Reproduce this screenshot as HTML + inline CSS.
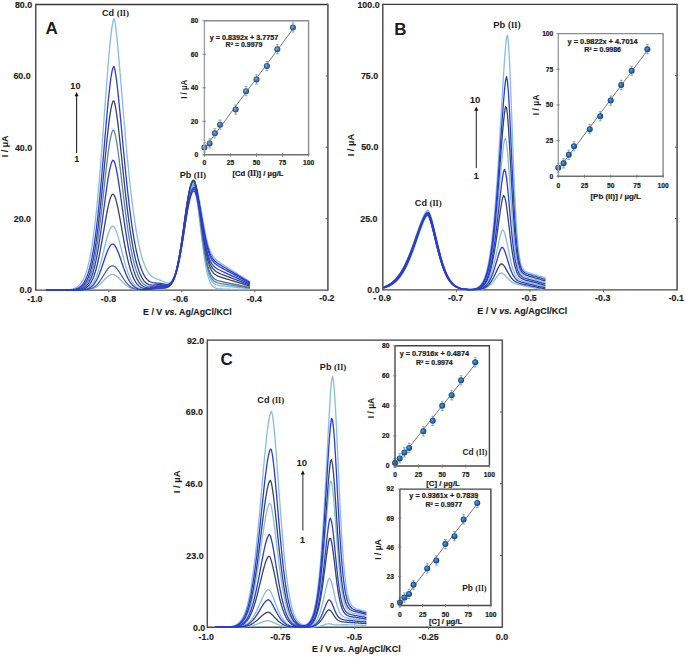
<!DOCTYPE html>
<html><head><meta charset="utf-8"><style>
html,body{margin:0;padding:0;background:#fff;}
body{width:685px;height:657px;overflow:hidden;}
svg{display:block;}
text{font-family:"Liberation Sans",sans-serif;}
</style></head><body>
<svg width="685" height="657" viewBox="0 0 685 657">
<defs>
<radialGradient id="ball" cx="0.5" cy="0.5" r="0.55" fx="0.4" fy="0.38">
<stop offset="0" stop-color="#5aa6ea"/>
<stop offset="0.5" stop-color="#1f6cb8"/>
<stop offset="1" stop-color="#0e3668"/>
</radialGradient>
<radialGradient id="ballA" cx="0.5" cy="0.5" r="0.55" fx="0.4" fy="0.38">
<stop offset="0" stop-color="#7cb8ea"/>
<stop offset="0.5" stop-color="#3a78b8"/>
<stop offset="1" stop-color="#1a3c66"/>
</radialGradient>
</defs>
<rect width="685" height="657" fill="#fff"/>
<line x1="35.75" y1="4.50" x2="327.90" y2="4.50" stroke="#3a3a3a" stroke-width="1.3" />
<line x1="35.75" y1="290.10" x2="327.90" y2="290.10" stroke="#4a4a4a" stroke-width="1.4" />
<line x1="35.75" y1="3.85" x2="35.75" y2="290.80" stroke="#4f4f4f" stroke-width="1.5" />
<line x1="327.90" y1="3.85" x2="327.90" y2="290.80" stroke="#5a5a5a" stroke-width="1.6" />
<line x1="325.70" y1="218.70" x2="327.90" y2="218.70" stroke="#5a5a5a" stroke-width="1.1" />
<line x1="325.70" y1="147.30" x2="327.90" y2="147.30" stroke="#5a5a5a" stroke-width="1.1" />
<line x1="325.70" y1="75.90" x2="327.90" y2="75.90" stroke="#5a5a5a" stroke-width="1.1" />
<line x1="108.79" y1="290.10" x2="108.79" y2="292.30" stroke="#666" stroke-width="1.0" />
<line x1="181.82" y1="290.10" x2="181.82" y2="292.30" stroke="#666" stroke-width="1.0" />
<line x1="254.86" y1="290.10" x2="254.86" y2="292.30" stroke="#666" stroke-width="1.0" />
<path d="M46.00,290.10 L47.00,290.10 L48.00,290.10 L49.00,290.10 L50.00,290.10 L51.00,290.10 L52.00,290.10 L53.00,290.10 L54.00,290.10 L55.00,290.10 L56.00,290.10 L57.00,290.10 L58.00,290.10 L59.00,290.10 L60.00,290.10 L61.00,290.10 L62.00,290.10 L63.00,290.10 L64.00,290.10 L65.00,290.10 L66.00,290.10 L67.00,290.10 L68.00,290.10 L69.00,290.10 L70.00,290.10 L71.00,290.10 L72.00,290.10 L73.00,290.10 L74.00,290.10 L75.00,290.10 L76.00,290.10 L77.00,290.09 L78.00,290.09 L79.00,290.09 L80.00,290.08 L81.00,290.07 L82.00,290.05 L83.00,290.03 L84.00,290.00 L85.00,289.96 L86.00,289.90 L87.00,289.83 L88.00,289.73 L89.00,289.60 L90.00,289.43 L91.00,289.22 L92.00,288.96 L93.00,288.63 L94.00,288.24 L95.00,287.78 L96.00,287.23 L97.00,286.60 L98.00,285.87 L99.00,285.07 L100.00,284.18 L101.00,283.22 L102.00,282.21 L103.00,281.16 L104.00,280.09 L105.00,279.04 L106.00,278.02 L107.00,277.08 L108.00,276.24 L109.00,275.53 L110.00,274.97 L111.00,274.59 L112.00,274.41 L113.00,274.43 L114.00,274.66 L115.00,275.08 L116.00,275.67 L117.00,276.41 L118.00,277.27 L119.00,278.23 L120.00,279.25 L121.00,280.30 L122.00,281.36 L123.00,282.39 L124.00,283.39 L125.00,284.33 L126.00,285.19 L127.00,285.98 L128.00,286.68 L129.00,287.30 L130.00,287.83 L131.00,288.28 L132.00,288.66 L133.00,288.97 L134.00,289.22 L135.00,289.43 L136.00,289.58 L137.00,289.70 L138.00,289.79 L139.00,289.86 L140.00,289.89 L141.00,289.91 L142.00,289.92 L143.00,289.90 L144.00,289.88 L145.00,289.84 L146.00,289.78 L147.00,289.72 L148.00,289.64 L149.00,289.56 L150.00,289.46 L151.00,289.36 L152.00,289.26 L153.00,289.15 L154.00,289.05 L155.00,288.95 L156.00,288.86 L157.00,288.77 L158.00,288.70 L159.00,288.64 L160.00,288.59 L161.00,288.54 L162.00,288.48 L163.00,288.40 L164.00,288.29 L165.00,288.13 L166.00,287.89 L167.00,287.54 L168.00,287.05 L169.00,286.38 L170.00,285.47 L171.00,284.29 L172.00,282.78 L173.00,280.88 L174.00,278.54 L175.00,275.72 L176.00,272.36 L177.00,268.44 L178.00,263.94 L179.00,258.86 L180.00,253.23 L181.00,247.11 L182.00,240.58 L183.00,233.74 L184.00,226.74 L185.00,219.73 L186.00,212.91 L187.00,206.46 L188.00,200.58 L189.00,195.46 L190.00,191.26 L191.00,188.14 L192.00,186.19 L193.00,185.50 L194.00,186.41 L195.00,189.19 L196.00,193.70 L197.00,199.68 L198.00,206.82 L199.00,214.79 L200.00,223.21 L201.00,231.75 L202.00,240.10 L203.00,248.00 L204.00,255.25 L205.00,261.72 L206.00,267.36 L207.00,272.13 L208.00,276.09 L209.00,279.29 L210.00,281.83 L211.00,283.79 L212.00,285.27 L213.00,286.38 L214.00,287.19 L215.00,287.76 L216.00,288.17 L217.00,288.46 L218.00,288.66 L219.00,288.79 L220.00,288.89 L221.00,288.96 L222.00,289.02 L223.00,289.06 L224.00,289.09 L225.00,289.12 L226.00,289.15 L227.00,289.18 L228.00,289.21 L229.00,289.23 L230.00,289.26 L231.00,289.28 L232.00,289.31 L233.00,289.33 L234.00,289.36 L235.00,289.39 L236.00,289.41 L237.00,289.44 L238.00,289.46 L239.00,289.49 L240.00,289.51 L241.00,289.54 L242.00,289.56 L243.00,289.59 L244.00,289.62 L245.00,289.64 L246.00,289.67 L247.00,289.69 L248.00,289.72 L249.00,289.74 L250.00,289.77" fill="none" stroke="#86bde3" stroke-width="1.3" stroke-linejoin="round"/>
<path d="M46.00,290.10 L47.00,290.10 L48.00,290.10 L49.00,290.10 L50.00,290.10 L51.00,290.10 L52.00,290.10 L53.00,290.10 L54.00,290.10 L55.00,290.10 L56.00,290.10 L57.00,290.10 L58.00,290.10 L59.00,290.10 L60.00,290.10 L61.00,290.10 L62.00,290.10 L63.00,290.10 L64.00,290.10 L65.00,290.10 L66.00,290.10 L67.00,290.10 L68.00,290.10 L69.00,290.10 L70.00,290.10 L71.00,290.09 L72.00,290.09 L73.00,290.09 L74.00,290.08 L75.00,290.07 L76.00,290.06 L77.00,290.04 L78.00,290.01 L79.00,289.97 L80.00,289.92 L81.00,289.85 L82.00,289.75 L83.00,289.61 L84.00,289.43 L85.00,289.20 L86.00,288.89 L87.00,288.49 L88.00,287.99 L89.00,287.35 L90.00,286.57 L91.00,285.60 L92.00,284.43 L93.00,283.02 L94.00,281.36 L95.00,279.41 L96.00,277.17 L97.00,274.62 L98.00,271.76 L99.00,268.60 L100.00,265.16 L101.00,261.47 L102.00,257.58 L103.00,253.56 L104.00,249.48 L105.00,245.42 L106.00,241.50 L107.00,237.81 L108.00,234.45 L109.00,231.55 L110.00,229.18 L111.00,227.46 L112.00,226.44 L113.00,226.24 L114.00,226.97 L115.00,228.48 L116.00,230.65 L117.00,233.38 L118.00,236.57 L119.00,240.10 L120.00,243.88 L121.00,247.80 L122.00,251.76 L123.00,255.69 L124.00,259.51 L125.00,263.17 L126.00,266.61 L127.00,269.80 L128.00,272.71 L129.00,275.35 L130.00,277.69 L131.00,279.76 L132.00,281.56 L133.00,283.10 L134.00,284.42 L135.00,285.52 L136.00,286.43 L137.00,287.18 L138.00,287.79 L139.00,288.27 L140.00,288.65 L141.00,288.93 L142.00,289.13 L143.00,289.27 L144.00,289.34 L145.00,289.37 L146.00,289.35 L147.00,289.30 L148.00,289.21 L149.00,289.10 L150.00,288.96 L151.00,288.81 L152.00,288.64 L153.00,288.47 L154.00,288.30 L155.00,288.14 L156.00,288.00 L157.00,287.87 L158.00,287.77 L159.00,287.69 L160.00,287.63 L161.00,287.58 L162.00,287.55 L163.00,287.51 L164.00,287.45 L165.00,287.35 L166.00,287.18 L167.00,286.91 L168.00,286.50 L169.00,285.91 L170.00,285.10 L171.00,284.00 L172.00,282.58 L173.00,280.77 L174.00,278.52 L175.00,275.78 L176.00,272.51 L177.00,268.68 L178.00,264.28 L179.00,259.30 L180.00,253.78 L181.00,247.77 L182.00,241.34 L183.00,234.62 L184.00,227.72 L185.00,220.82 L186.00,214.09 L187.00,207.72 L188.00,201.90 L189.00,196.81 L190.00,192.61 L191.00,189.45 L192.00,187.41 L193.00,186.57 L194.00,187.26 L195.00,189.75 L196.00,193.89 L197.00,199.44 L198.00,206.10 L199.00,213.56 L200.00,221.49 L201.00,229.56 L202.00,237.49 L203.00,245.03 L204.00,252.00 L205.00,258.26 L206.00,263.73 L207.00,268.40 L208.00,272.29 L209.00,275.46 L210.00,277.99 L211.00,279.96 L212.00,281.48 L213.00,282.63 L214.00,283.49 L215.00,284.13 L216.00,284.60 L217.00,284.96 L218.00,285.22 L219.00,285.44 L220.00,285.61 L221.00,285.75 L222.00,285.88 L223.00,286.00 L224.00,286.11 L225.00,286.22 L226.00,286.32 L227.00,286.43 L228.00,286.53 L229.00,286.63 L230.00,286.73 L231.00,286.84 L232.00,286.94 L233.00,287.04 L234.00,287.14 L235.00,287.24 L236.00,287.35 L237.00,287.45 L238.00,287.55 L239.00,287.65 L240.00,287.75 L241.00,287.86 L242.00,287.96 L243.00,288.06 L244.00,288.16 L245.00,288.26 L246.00,288.37 L247.00,288.47 L248.00,288.57 L249.00,288.67 L250.00,288.77" fill="none" stroke="#86bde3" stroke-width="1.3" stroke-linejoin="round"/>
<path d="M46.00,290.10 L47.00,290.10 L48.00,290.10 L49.00,290.10 L50.00,290.10 L51.00,290.10 L52.00,290.10 L53.00,290.10 L54.00,290.10 L55.00,290.10 L56.00,290.10 L57.00,290.10 L58.00,290.10 L59.00,290.10 L60.00,290.10 L61.00,290.10 L62.00,290.10 L63.00,290.09 L64.00,290.09 L65.00,290.09 L66.00,290.08 L67.00,290.08 L68.00,290.07 L69.00,290.05 L70.00,290.03 L71.00,290.01 L72.00,289.97 L73.00,289.92 L74.00,289.86 L75.00,289.77 L76.00,289.66 L77.00,289.51 L78.00,289.32 L79.00,289.07 L80.00,288.75 L81.00,288.35 L82.00,287.84 L83.00,287.21 L84.00,286.42 L85.00,285.45 L86.00,284.27 L87.00,282.83 L88.00,281.10 L89.00,279.04 L90.00,276.60 L91.00,273.74 L92.00,270.42 L93.00,266.59 L94.00,262.22 L95.00,257.29 L96.00,251.76 L97.00,245.63 L98.00,238.90 L99.00,231.60 L100.00,223.78 L101.00,215.48 L102.00,206.80 L103.00,197.84 L104.00,188.73 L105.00,179.63 L106.00,170.71 L107.00,162.15 L108.00,154.15 L109.00,146.92 L110.00,140.68 L111.00,135.64 L112.00,132.01 L113.00,130.04 L114.00,130.51 L115.00,133.58 L116.00,138.27 L117.00,144.18 L118.00,151.03 L119.00,158.58 L120.00,166.61 L121.00,174.94 L122.00,183.41 L123.00,191.88 L124.00,200.22 L125.00,208.33 L126.00,216.14 L127.00,223.57 L128.00,230.57 L129.00,237.12 L130.00,243.19 L131.00,248.77 L132.00,253.87 L133.00,258.50 L134.00,262.66 L135.00,266.38 L136.00,269.68 L137.00,272.59 L138.00,275.14 L139.00,277.36 L140.00,279.26 L141.00,280.89 L142.00,282.26 L143.00,283.40 L144.00,284.33 L145.00,285.07 L146.00,285.64 L147.00,286.06 L148.00,286.34 L149.00,286.51 L150.00,286.58 L151.00,286.57 L152.00,286.49 L153.00,286.37 L154.00,286.22 L155.00,286.05 L156.00,285.90 L157.00,285.76 L158.00,285.65 L159.00,285.58 L160.00,285.54 L161.00,285.55 L162.00,285.58 L163.00,285.64 L164.00,285.69 L165.00,285.71 L166.00,285.68 L167.00,285.55 L168.00,285.28 L169.00,284.83 L170.00,284.14 L171.00,283.16 L172.00,281.83 L173.00,280.10 L174.00,277.91 L175.00,275.21 L176.00,271.96 L177.00,268.12 L178.00,263.69 L179.00,258.67 L180.00,253.08 L181.00,246.99 L182.00,240.47 L183.00,233.64 L184.00,226.63 L185.00,219.61 L186.00,212.76 L187.00,206.27 L188.00,200.33 L189.00,195.12 L190.00,190.81 L191.00,187.53 L192.00,185.38 L193.00,184.43 L194.00,185.00 L195.00,187.38 L196.00,191.39 L197.00,196.82 L198.00,203.36 L199.00,210.70 L200.00,218.53 L201.00,226.53 L202.00,234.41 L203.00,241.94 L204.00,248.92 L205.00,255.21 L206.00,260.73 L207.00,265.46 L208.00,269.41 L209.00,272.64 L210.00,275.24 L211.00,277.28 L212.00,278.86 L213.00,280.06 L214.00,280.98 L215.00,281.67 L216.00,282.20 L217.00,282.61 L218.00,282.93 L219.00,283.19 L220.00,283.41 L221.00,283.61 L222.00,283.79 L223.00,283.96 L224.00,284.12 L225.00,284.28 L226.00,284.44 L227.00,284.59 L228.00,284.74 L229.00,284.90 L230.00,285.05 L231.00,285.20 L232.00,285.36 L233.00,285.51 L234.00,285.66 L235.00,285.82 L236.00,285.97 L237.00,286.12 L238.00,286.28 L239.00,286.43 L240.00,286.58 L241.00,286.73 L242.00,286.89 L243.00,287.04 L244.00,287.19 L245.00,287.35 L246.00,287.50 L247.00,287.65 L248.00,287.81 L249.00,287.96 L250.00,288.11" fill="none" stroke="#5b86a8" stroke-width="1.3" stroke-linejoin="round"/>
<path d="M46.00,290.10 L47.00,290.10 L48.00,290.10 L49.00,290.10 L50.00,290.10 L51.00,290.10 L52.00,290.10 L53.00,290.09 L54.00,290.09 L55.00,290.09 L56.00,290.08 L57.00,290.08 L58.00,290.07 L59.00,290.06 L60.00,290.05 L61.00,290.04 L62.00,290.02 L63.00,289.99 L64.00,289.96 L65.00,289.92 L66.00,289.86 L67.00,289.79 L68.00,289.70 L69.00,289.59 L70.00,289.46 L71.00,289.28 L72.00,289.07 L73.00,288.81 L74.00,288.48 L75.00,288.08 L76.00,287.59 L77.00,287.00 L78.00,286.28 L79.00,285.41 L80.00,284.38 L81.00,283.15 L82.00,281.68 L83.00,279.96 L84.00,277.93 L85.00,275.57 L86.00,272.82 L87.00,269.65 L88.00,266.01 L89.00,261.84 L90.00,257.11 L91.00,251.78 L92.00,245.79 L93.00,239.11 L94.00,231.70 L95.00,223.56 L96.00,214.65 L97.00,204.98 L98.00,194.57 L99.00,183.44 L100.00,171.65 L101.00,159.25 L102.00,146.35 L103.00,133.07 L104.00,119.53 L105.00,105.91 L106.00,92.39 L107.00,79.19 L108.00,66.54 L109.00,54.70 L110.00,43.95 L111.00,34.59 L112.00,26.95 L113.00,21.41 L114.00,18.56 L115.00,21.74 L116.00,29.08 L117.00,38.32 L118.00,48.80 L119.00,60.09 L120.00,71.89 L121.00,83.98 L122.00,96.16 L123.00,108.28 L124.00,120.23 L125.00,131.90 L126.00,143.21 L127.00,154.11 L128.00,164.55 L129.00,174.50 L130.00,183.93 L131.00,192.83 L132.00,201.19 L133.00,209.02 L134.00,216.33 L135.00,223.11 L136.00,229.39 L137.00,235.18 L138.00,240.49 L139.00,245.36 L140.00,249.80 L141.00,253.82 L142.00,257.45 L143.00,260.70 L144.00,263.60 L145.00,266.16 L146.00,268.41 L147.00,270.36 L148.00,272.04 L149.00,273.46 L150.00,274.66 L151.00,275.66 L152.00,276.48 L153.00,277.15 L154.00,277.72 L155.00,278.19 L156.00,278.61 L157.00,279.00 L158.00,279.38 L159.00,279.76 L160.00,280.16 L161.00,280.59 L162.00,281.03 L163.00,281.48 L164.00,281.92 L165.00,282.33 L166.00,282.67 L167.00,282.90 L168.00,282.98 L169.00,282.86 L170.00,282.49 L171.00,281.81 L172.00,280.76 L173.00,279.30 L174.00,277.37 L175.00,274.91 L176.00,271.90 L177.00,268.30 L178.00,264.09 L179.00,259.30 L180.00,253.93 L181.00,248.06 L182.00,241.75 L183.00,235.12 L184.00,228.29 L185.00,221.42 L186.00,214.67 L187.00,208.22 L188.00,202.23 L189.00,196.86 L190.00,192.25 L191.00,188.49 L192.00,185.63 L193.00,183.70 L194.00,182.97 L195.00,183.70 L196.00,185.71 L197.00,188.82 L198.00,192.84 L199.00,197.57 L200.00,202.85 L201.00,208.50 L202.00,214.36 L203.00,220.24 L204.00,225.94 L205.00,231.32 L206.00,236.24 L207.00,240.62 L208.00,244.43 L209.00,247.68 L210.00,250.42 L211.00,252.69 L212.00,254.58 L213.00,256.14 L214.00,257.45 L215.00,258.56 L216.00,259.53 L217.00,260.39 L218.00,261.17 L219.00,261.91 L220.00,262.60 L221.00,263.28 L222.00,263.94 L223.00,264.59 L224.00,265.23 L225.00,265.87 L226.00,266.51 L227.00,267.15 L228.00,267.79 L229.00,268.43 L230.00,269.06 L231.00,269.70 L232.00,270.34 L233.00,270.98 L234.00,271.61 L235.00,272.25 L236.00,272.89 L237.00,273.53 L238.00,274.16 L239.00,274.80 L240.00,275.44 L241.00,276.08 L242.00,276.71 L243.00,277.35 L244.00,277.99 L245.00,278.63 L246.00,279.26 L247.00,279.90 L248.00,280.54 L249.00,281.18 L250.00,281.81" fill="none" stroke="#86bde3" stroke-width="1.3" stroke-linejoin="round"/>
<path d="M46.00,290.10 L47.00,290.10 L48.00,290.10 L49.00,290.10 L50.00,290.10 L51.00,290.10 L52.00,290.10 L53.00,290.10 L54.00,290.10 L55.00,290.10 L56.00,290.10 L57.00,290.10 L58.00,290.10 L59.00,290.10 L60.00,290.10 L61.00,290.10 L62.00,290.10 L63.00,290.10 L64.00,290.10 L65.00,290.10 L66.00,290.10 L67.00,290.10 L68.00,290.10 L69.00,290.10 L70.00,290.10 L71.00,290.10 L72.00,290.10 L73.00,290.10 L74.00,290.10 L75.00,290.10 L76.00,290.09 L77.00,290.09 L78.00,290.08 L79.00,290.07 L80.00,290.06 L81.00,290.04 L82.00,290.02 L83.00,289.98 L84.00,289.93 L85.00,289.86 L86.00,289.77 L87.00,289.65 L88.00,289.49 L89.00,289.28 L90.00,289.01 L91.00,288.68 L92.00,288.27 L93.00,287.76 L94.00,287.15 L95.00,286.43 L96.00,285.58 L97.00,284.60 L98.00,283.49 L99.00,282.25 L100.00,280.89 L101.00,279.43 L102.00,277.88 L103.00,276.27 L104.00,274.64 L105.00,273.03 L106.00,271.47 L107.00,270.02 L108.00,268.73 L109.00,267.63 L110.00,266.76 L111.00,266.16 L112.00,265.86 L113.00,265.87 L114.00,266.21 L115.00,266.84 L116.00,267.74 L117.00,268.86 L118.00,270.17 L119.00,271.63 L120.00,273.17 L121.00,274.78 L122.00,276.39 L123.00,277.97 L124.00,279.50 L125.00,280.94 L126.00,282.27 L127.00,283.49 L128.00,284.58 L129.00,285.54 L130.00,286.38 L131.00,287.10 L132.00,287.70 L133.00,288.20 L134.00,288.62 L135.00,288.95 L136.00,289.21 L137.00,289.42 L138.00,289.58 L139.00,289.69 L140.00,289.77 L141.00,289.82 L142.00,289.84 L143.00,289.84 L144.00,289.82 L145.00,289.79 L146.00,289.73 L147.00,289.66 L148.00,289.58 L149.00,289.49 L150.00,289.38 L151.00,289.27 L152.00,289.15 L153.00,289.03 L154.00,288.92 L155.00,288.80 L156.00,288.70 L157.00,288.61 L158.00,288.54 L159.00,288.47 L160.00,288.41 L161.00,288.36 L162.00,288.31 L163.00,288.23 L164.00,288.13 L165.00,287.97 L166.00,287.73 L167.00,287.39 L168.00,286.89 L169.00,286.21 L170.00,285.30 L171.00,284.10 L172.00,282.56 L173.00,280.62 L174.00,278.24 L175.00,275.35 L176.00,271.92 L177.00,267.91 L178.00,263.30 L179.00,258.10 L180.00,252.34 L181.00,246.07 L182.00,239.37 L183.00,232.35 L184.00,225.16 L185.00,217.96 L186.00,210.93 L187.00,204.26 L188.00,198.16 L189.00,192.79 L190.00,188.34 L191.00,184.92 L192.00,182.65 L193.00,181.57 L194.00,182.03 L195.00,184.31 L196.00,188.24 L197.00,193.58 L198.00,200.05 L199.00,207.34 L200.00,215.12 L201.00,223.10 L202.00,231.00 L203.00,238.57 L204.00,245.61 L205.00,251.97 L206.00,257.58 L207.00,262.40 L208.00,266.44 L209.00,269.76 L210.00,272.44 L211.00,274.55 L212.00,276.21 L213.00,277.48 L214.00,278.46 L215.00,279.21 L216.00,279.79 L217.00,280.26 L218.00,280.63 L219.00,280.95 L220.00,281.22 L221.00,281.47 L222.00,281.70 L223.00,281.92 L224.00,282.13 L225.00,282.34 L226.00,282.55 L227.00,282.75 L228.00,282.96 L229.00,283.16 L230.00,283.37 L231.00,283.57 L232.00,283.78 L233.00,283.98 L234.00,284.18 L235.00,284.39 L236.00,284.59 L237.00,284.80 L238.00,285.00 L239.00,285.20 L240.00,285.41 L241.00,285.61 L242.00,285.82 L243.00,286.02 L244.00,286.22 L245.00,286.43 L246.00,286.63 L247.00,286.84 L248.00,287.04 L249.00,287.24 L250.00,287.45" fill="none" stroke="#4d6a8c" stroke-width="1.3" stroke-linejoin="round"/>
<path d="M46.00,290.10 L47.00,290.10 L48.00,290.10 L49.00,290.10 L50.00,290.10 L51.00,290.10 L52.00,290.10 L53.00,290.10 L54.00,290.10 L55.00,290.10 L56.00,290.10 L57.00,290.10 L58.00,290.10 L59.00,290.10 L60.00,290.10 L61.00,290.10 L62.00,290.10 L63.00,290.10 L64.00,290.10 L65.00,290.10 L66.00,290.10 L67.00,290.10 L68.00,290.10 L69.00,290.09 L70.00,290.09 L71.00,290.08 L72.00,290.08 L73.00,290.06 L74.00,290.05 L75.00,290.03 L76.00,289.99 L77.00,289.95 L78.00,289.89 L79.00,289.81 L80.00,289.70 L81.00,289.55 L82.00,289.35 L83.00,289.09 L84.00,288.76 L85.00,288.33 L86.00,287.79 L87.00,287.10 L88.00,286.25 L89.00,285.19 L90.00,283.91 L91.00,282.36 L92.00,280.51 L93.00,278.32 L94.00,275.77 L95.00,272.82 L96.00,269.46 L97.00,265.67 L98.00,261.46 L99.00,256.83 L100.00,251.82 L101.00,246.47 L102.00,240.86 L103.00,235.05 L104.00,229.15 L105.00,223.28 L106.00,217.58 L107.00,212.17 L108.00,207.21 L109.00,202.84 L110.00,199.21 L111.00,196.45 L112.00,194.69 L113.00,194.07 L114.00,194.95 L115.00,197.06 L116.00,200.14 L117.00,204.03 L118.00,208.55 L119.00,213.55 L120.00,218.90 L121.00,224.46 L122.00,230.11 L123.00,235.72 L124.00,241.22 L125.00,246.51 L126.00,251.54 L127.00,256.26 L128.00,260.62 L129.00,264.62 L130.00,268.24 L131.00,271.48 L132.00,274.36 L133.00,276.89 L134.00,279.09 L135.00,280.98 L136.00,282.59 L137.00,283.96 L138.00,285.09 L139.00,286.03 L140.00,286.80 L141.00,287.40 L142.00,287.88 L143.00,288.23 L144.00,288.49 L145.00,288.65 L146.00,288.74 L147.00,288.75 L148.00,288.71 L149.00,288.63 L150.00,288.50 L151.00,288.34 L152.00,288.15 L153.00,287.96 L154.00,287.76 L155.00,287.58 L156.00,287.40 L157.00,287.25 L158.00,287.13 L159.00,287.03 L160.00,286.97 L161.00,286.93 L162.00,286.91 L163.00,286.89 L164.00,286.86 L165.00,286.79 L166.00,286.64 L167.00,286.40 L168.00,286.01 L169.00,285.43 L170.00,284.62 L171.00,283.51 L172.00,282.05 L173.00,280.19 L174.00,277.86 L175.00,275.02 L176.00,271.62 L177.00,267.63 L178.00,263.03 L179.00,257.83 L180.00,252.06 L181.00,245.76 L182.00,239.03 L183.00,231.98 L184.00,224.74 L185.00,217.49 L186.00,210.39 L187.00,203.66 L188.00,197.47 L189.00,192.01 L190.00,187.44 L191.00,183.88 L192.00,181.44 L193.00,180.14 L194.00,180.34 L195.00,182.31 L196.00,185.87 L197.00,190.80 L198.00,196.83 L199.00,203.66 L200.00,211.02 L201.00,218.61 L202.00,226.18 L203.00,233.50 L204.00,240.36 L205.00,246.61 L206.00,252.16 L207.00,256.97 L208.00,261.03 L209.00,264.39 L210.00,267.13 L211.00,269.32 L212.00,271.05 L213.00,272.41 L214.00,273.48 L215.00,274.33 L216.00,275.01 L217.00,275.57 L218.00,276.05 L219.00,276.46 L220.00,276.84 L221.00,277.19 L222.00,277.52 L223.00,277.84 L224.00,278.16 L225.00,278.47 L226.00,278.78 L227.00,279.08 L228.00,279.39 L229.00,279.70 L230.00,280.00 L231.00,280.31 L232.00,280.61 L233.00,280.92 L234.00,281.23 L235.00,281.53 L236.00,281.84 L237.00,282.14 L238.00,282.45 L239.00,282.76 L240.00,283.06 L241.00,283.37 L242.00,283.67 L243.00,283.98 L244.00,284.29 L245.00,284.59 L246.00,284.90 L247.00,285.20 L248.00,285.51 L249.00,285.82 L250.00,286.12" fill="none" stroke="#34466b" stroke-width="1.3" stroke-linejoin="round"/>
<path d="M46.00,290.10 L47.00,290.10 L48.00,290.10 L49.00,290.10 L50.00,290.10 L51.00,290.10 L52.00,290.10 L53.00,290.10 L54.00,290.10 L55.00,290.10 L56.00,290.10 L57.00,290.10 L58.00,290.10 L59.00,290.10 L60.00,290.10 L61.00,290.09 L62.00,290.09 L63.00,290.09 L64.00,290.08 L65.00,290.07 L66.00,290.06 L67.00,290.05 L68.00,290.03 L69.00,290.00 L70.00,289.97 L71.00,289.92 L72.00,289.86 L73.00,289.77 L74.00,289.67 L75.00,289.53 L76.00,289.35 L77.00,289.12 L78.00,288.83 L79.00,288.47 L80.00,288.01 L81.00,287.44 L82.00,286.73 L83.00,285.86 L84.00,284.80 L85.00,283.52 L86.00,281.97 L87.00,280.12 L88.00,277.93 L89.00,275.35 L90.00,272.34 L91.00,268.84 L92.00,264.82 L93.00,260.23 L94.00,255.04 L95.00,249.22 L96.00,242.75 L97.00,235.62 L98.00,227.85 L99.00,219.45 L100.00,210.47 L101.00,200.97 L102.00,191.06 L103.00,180.83 L104.00,170.44 L105.00,160.02 L106.00,149.78 L107.00,139.90 L108.00,130.60 L109.00,122.11 L110.00,114.67 L111.00,108.52 L112.00,103.91 L113.00,101.13 L114.00,101.01 L115.00,104.40 L116.00,109.78 L117.00,116.56 L118.00,124.38 L119.00,132.96 L120.00,142.06 L121.00,151.48 L122.00,161.04 L123.00,170.61 L124.00,180.04 L125.00,189.24 L126.00,198.12 L127.00,206.61 L128.00,214.67 L129.00,222.25 L130.00,229.33 L131.00,235.90 L132.00,241.96 L133.00,247.52 L134.00,252.57 L135.00,257.15 L136.00,261.28 L137.00,264.97 L138.00,268.25 L139.00,271.15 L140.00,273.69 L141.00,275.91 L142.00,277.82 L143.00,279.45 L144.00,280.83 L145.00,281.97 L146.00,282.89 L147.00,283.62 L148.00,284.18 L149.00,284.58 L150.00,284.85 L151.00,285.00 L152.00,285.07 L153.00,285.06 L154.00,285.01 L155.00,284.93 L156.00,284.84 L157.00,284.76 L158.00,284.70 L159.00,284.68 L160.00,284.70 L161.00,284.75 L162.00,284.84 L163.00,284.94 L164.00,285.05 L165.00,285.12 L166.00,285.14 L167.00,285.06 L168.00,284.84 L169.00,284.43 L170.00,283.77 L171.00,282.82 L172.00,281.51 L173.00,279.78 L174.00,277.59 L175.00,274.87 L176.00,271.58 L177.00,267.70 L178.00,263.21 L179.00,258.11 L180.00,252.44 L181.00,246.24 L182.00,239.61 L183.00,232.65 L184.00,225.50 L185.00,218.33 L186.00,211.31 L187.00,204.63 L188.00,198.48 L189.00,193.04 L190.00,188.45 L191.00,184.84 L192.00,182.30 L193.00,180.86 L194.00,180.85 L195.00,182.53 L196.00,185.74 L197.00,190.25 L198.00,195.82 L199.00,202.18 L200.00,209.06 L201.00,216.22 L202.00,223.40 L203.00,230.39 L204.00,237.00 L205.00,243.05 L206.00,248.47 L207.00,253.18 L208.00,257.19 L209.00,260.53 L210.00,263.27 L211.00,265.48 L212.00,267.25 L213.00,268.66 L214.00,269.78 L215.00,270.69 L216.00,271.44 L217.00,272.07 L218.00,272.61 L219.00,273.10 L220.00,273.55 L221.00,273.98 L222.00,274.38 L223.00,274.78 L224.00,275.17 L225.00,275.56 L226.00,275.95 L227.00,276.33 L228.00,276.71 L229.00,277.10 L230.00,277.48 L231.00,277.86 L232.00,278.24 L233.00,278.63 L234.00,279.01 L235.00,279.39 L236.00,279.77 L237.00,280.16 L238.00,280.54 L239.00,280.92 L240.00,281.30 L241.00,281.69 L242.00,282.07 L243.00,282.45 L244.00,282.83 L245.00,283.22 L246.00,283.60 L247.00,283.98 L248.00,284.36 L249.00,284.75 L250.00,285.13" fill="none" stroke="#34466b" stroke-width="1.3" stroke-linejoin="round"/>
<path d="M46.00,290.10 L47.00,290.10 L48.00,290.10 L49.00,290.10 L50.00,290.10 L51.00,290.10 L52.00,290.10 L53.00,290.10 L54.00,290.10 L55.00,290.10 L56.00,290.10 L57.00,290.10 L58.00,290.10 L59.00,290.10 L60.00,290.10 L61.00,290.10 L62.00,290.10 L63.00,290.10 L64.00,290.10 L65.00,290.10 L66.00,290.10 L67.00,290.10 L68.00,290.10 L69.00,290.10 L70.00,290.10 L71.00,290.10 L72.00,290.10 L73.00,290.09 L74.00,290.09 L75.00,290.09 L76.00,290.08 L77.00,290.07 L78.00,290.05 L79.00,290.03 L80.00,290.00 L81.00,289.95 L82.00,289.89 L83.00,289.81 L84.00,289.70 L85.00,289.54 L86.00,289.34 L87.00,289.08 L88.00,288.74 L89.00,288.32 L90.00,287.78 L91.00,287.11 L92.00,286.29 L93.00,285.30 L94.00,284.12 L95.00,282.73 L96.00,281.11 L97.00,279.27 L98.00,277.19 L99.00,274.87 L100.00,272.35 L101.00,269.64 L102.00,266.77 L103.00,263.81 L104.00,260.80 L105.00,257.82 L106.00,254.93 L107.00,252.24 L108.00,249.80 L109.00,247.71 L110.00,246.03 L111.00,244.83 L112.00,244.17 L113.00,244.10 L114.00,244.68 L115.00,245.82 L116.00,247.44 L117.00,249.48 L118.00,251.85 L119.00,254.49 L120.00,257.31 L121.00,260.22 L122.00,263.17 L123.00,266.08 L124.00,268.90 L125.00,271.58 L126.00,274.09 L127.00,276.39 L128.00,278.49 L129.00,280.36 L130.00,282.01 L131.00,283.45 L132.00,284.69 L133.00,285.73 L134.00,286.61 L135.00,287.33 L136.00,287.92 L137.00,288.40 L138.00,288.77 L139.00,289.06 L140.00,289.28 L141.00,289.43 L142.00,289.54 L143.00,289.60 L144.00,289.62 L145.00,289.60 L146.00,289.56 L147.00,289.49 L148.00,289.40 L149.00,289.29 L150.00,289.16 L151.00,289.02 L152.00,288.88 L153.00,288.73 L154.00,288.58 L155.00,288.45 L156.00,288.32 L157.00,288.21 L158.00,288.12 L159.00,288.05 L160.00,287.99 L161.00,287.95 L162.00,287.92 L163.00,287.87 L164.00,287.81 L165.00,287.71 L166.00,287.54 L167.00,287.27 L168.00,286.88 L169.00,286.32 L170.00,285.55 L171.00,284.52 L172.00,283.19 L173.00,281.50 L174.00,279.41 L175.00,276.86 L176.00,273.83 L177.00,270.27 L178.00,266.18 L179.00,261.56 L180.00,256.43 L181.00,250.84 L182.00,244.86 L183.00,238.60 L184.00,232.16 L185.00,225.70 L186.00,219.37 L187.00,213.34 L188.00,207.76 L189.00,202.80 L190.00,198.58 L191.00,195.21 L192.00,192.74 L193.00,191.21 L194.00,190.90 L195.00,192.03 L196.00,194.46 L197.00,198.00 L198.00,202.44 L199.00,207.57 L200.00,213.20 L201.00,219.12 L202.00,225.14 L203.00,231.07 L204.00,236.74 L205.00,242.00 L206.00,246.75 L207.00,250.92 L208.00,254.51 L209.00,257.54 L210.00,260.04 L211.00,262.10 L212.00,263.77 L213.00,265.13 L214.00,266.24 L215.00,267.16 L216.00,267.93 L217.00,268.61 L218.00,269.21 L219.00,269.76 L220.00,270.28 L221.00,270.77 L222.00,271.25 L223.00,271.73 L224.00,272.19 L225.00,272.65 L226.00,273.12 L227.00,273.58 L228.00,274.04 L229.00,274.49 L230.00,274.95 L231.00,275.41 L232.00,275.87 L233.00,276.33 L234.00,276.79 L235.00,277.25 L236.00,277.71 L237.00,278.17 L238.00,278.63 L239.00,279.08 L240.00,279.54 L241.00,280.00 L242.00,280.46 L243.00,280.92 L244.00,281.38 L245.00,281.84 L246.00,282.30 L247.00,282.76 L248.00,283.22 L249.00,283.67 L250.00,284.13" fill="none" stroke="#2c3ae0" stroke-width="1.3" stroke-linejoin="round"/>
<path d="M46.00,290.10 L47.00,290.10 L48.00,290.10 L49.00,290.10 L50.00,290.10 L51.00,290.10 L52.00,290.10 L53.00,290.10 L54.00,290.10 L55.00,290.10 L56.00,290.10 L57.00,290.10 L58.00,290.10 L59.00,290.10 L60.00,290.10 L61.00,290.10 L62.00,290.10 L63.00,290.10 L64.00,290.10 L65.00,290.10 L66.00,290.09 L67.00,290.09 L68.00,290.09 L69.00,290.08 L70.00,290.07 L71.00,290.06 L72.00,290.04 L73.00,290.01 L74.00,289.98 L75.00,289.93 L76.00,289.86 L77.00,289.77 L78.00,289.66 L79.00,289.50 L80.00,289.30 L81.00,289.03 L82.00,288.70 L83.00,288.26 L84.00,287.71 L85.00,287.03 L86.00,286.17 L87.00,285.11 L88.00,283.83 L89.00,282.27 L90.00,280.40 L91.00,278.17 L92.00,275.56 L93.00,272.52 L94.00,269.01 L95.00,265.00 L96.00,260.48 L97.00,255.43 L98.00,249.86 L99.00,243.78 L100.00,237.23 L101.00,230.27 L102.00,222.97 L103.00,215.43 L104.00,207.78 L105.00,200.14 L106.00,192.68 L107.00,185.56 L108.00,178.97 L109.00,173.08 L110.00,168.08 L111.00,164.14 L112.00,161.45 L113.00,160.20 L114.00,161.01 L115.00,163.66 L116.00,167.61 L117.00,172.60 L118.00,178.39 L119.00,184.80 L120.00,191.63 L121.00,198.73 L122.00,205.94 L123.00,213.14 L124.00,220.22 L125.00,227.08 L126.00,233.64 L127.00,239.85 L128.00,245.66 L129.00,251.05 L130.00,255.99 L131.00,260.49 L132.00,264.55 L133.00,268.18 L134.00,271.40 L135.00,274.23 L136.00,276.70 L137.00,278.84 L138.00,280.68 L139.00,282.24 L140.00,283.55 L141.00,284.64 L142.00,285.54 L143.00,286.25 L144.00,286.80 L145.00,287.22 L146.00,287.51 L147.00,287.69 L148.00,287.78 L149.00,287.78 L150.00,287.72 L151.00,287.61 L152.00,287.45 L153.00,287.27 L154.00,287.07 L155.00,286.88 L156.00,286.70 L157.00,286.54 L158.00,286.41 L159.00,286.32 L160.00,286.27 L161.00,286.25 L162.00,286.26 L163.00,286.28 L164.00,286.30 L165.00,286.30 L166.00,286.23 L167.00,286.08 L168.00,285.80 L169.00,285.35 L170.00,284.68 L171.00,283.74 L172.00,282.47 L173.00,280.83 L174.00,278.76 L175.00,276.22 L176.00,273.16 L177.00,269.56 L178.00,265.40 L179.00,260.68 L180.00,255.44 L181.00,249.71 L182.00,243.58 L183.00,237.15 L184.00,230.54 L185.00,223.90 L186.00,217.38 L187.00,211.17 L188.00,205.41 L189.00,200.27 L190.00,195.88 L191.00,192.34 L192.00,189.70 L193.00,188.00 L194.00,187.51 L195.00,188.46 L196.00,190.71 L197.00,194.07 L198.00,198.33 L199.00,203.29 L200.00,208.76 L201.00,214.57 L202.00,220.52 L203.00,226.43 L204.00,232.11 L205.00,237.42 L206.00,242.24 L207.00,246.51 L208.00,250.19 L209.00,253.31 L210.00,255.92 L211.00,258.07 L212.00,259.83 L213.00,261.28 L214.00,262.47 L215.00,263.47 L216.00,264.33 L217.00,265.09 L218.00,265.77 L219.00,266.39 L220.00,266.99 L221.00,267.56 L222.00,268.12 L223.00,268.67 L224.00,269.21 L225.00,269.75 L226.00,270.29 L227.00,270.82 L228.00,271.36 L229.00,271.89 L230.00,272.43 L231.00,272.96 L232.00,273.50 L233.00,274.04 L234.00,274.57 L235.00,275.11 L236.00,275.64 L237.00,276.18 L238.00,276.71 L239.00,277.25 L240.00,277.78 L241.00,278.32 L242.00,278.85 L243.00,279.39 L244.00,279.93 L245.00,280.46 L246.00,281.00 L247.00,281.53 L248.00,282.07 L249.00,282.60 L250.00,283.14" fill="none" stroke="#2c3ae0" stroke-width="1.3" stroke-linejoin="round"/>
<path d="M46.00,290.10 L47.00,290.10 L48.00,290.10 L49.00,290.10 L50.00,290.10 L51.00,290.10 L52.00,290.10 L53.00,290.10 L54.00,290.10 L55.00,290.10 L56.00,290.10 L57.00,290.09 L58.00,290.09 L59.00,290.09 L60.00,290.09 L61.00,290.08 L62.00,290.07 L63.00,290.06 L64.00,290.05 L65.00,290.03 L66.00,290.01 L67.00,289.98 L68.00,289.94 L69.00,289.89 L70.00,289.83 L71.00,289.74 L72.00,289.63 L73.00,289.49 L74.00,289.31 L75.00,289.09 L76.00,288.81 L77.00,288.45 L78.00,288.01 L79.00,287.47 L80.00,286.81 L81.00,285.99 L82.00,285.01 L83.00,283.81 L84.00,282.38 L85.00,280.68 L86.00,278.66 L87.00,276.29 L88.00,273.51 L89.00,270.29 L90.00,266.57 L91.00,262.31 L92.00,257.46 L93.00,251.99 L94.00,245.86 L95.00,239.04 L96.00,231.51 L97.00,223.28 L98.00,214.34 L99.00,204.74 L100.00,194.51 L101.00,183.73 L102.00,172.49 L103.00,160.90 L104.00,149.11 L105.00,137.28 L106.00,125.59 L107.00,114.26 L108.00,103.51 L109.00,93.58 L110.00,84.75 L111.00,77.26 L112.00,71.43 L113.00,67.58 L114.00,66.40 L115.00,70.06 L116.00,76.23 L117.00,84.02 L118.00,92.94 L119.00,102.67 L120.00,112.94 L121.00,123.53 L122.00,134.26 L123.00,144.97 L124.00,155.55 L125.00,165.87 L126.00,175.87 L127.00,185.47 L128.00,194.62 L129.00,203.29 L130.00,211.44 L131.00,219.07 L132.00,226.17 L133.00,232.75 L134.00,238.80 L135.00,244.35 L136.00,249.42 L137.00,254.01 L138.00,258.17 L139.00,261.90 L140.00,265.23 L141.00,268.20 L142.00,270.81 L143.00,273.09 L144.00,275.07 L145.00,276.76 L146.00,278.19 L147.00,279.38 L148.00,280.35 L149.00,281.12 L150.00,281.72 L151.00,282.16 L152.00,282.48 L153.00,282.69 L154.00,282.83 L155.00,282.92 L156.00,282.99 L157.00,283.05 L158.00,283.12 L159.00,283.21 L160.00,283.34 L161.00,283.51 L162.00,283.71 L163.00,283.92 L164.00,284.14 L165.00,284.34 L166.00,284.48 L167.00,284.54 L168.00,284.46 L169.00,284.21 L170.00,283.73 L171.00,282.97 L172.00,281.88 L173.00,280.40 L174.00,278.48 L175.00,276.09 L176.00,273.17 L177.00,269.70 L178.00,265.68 L179.00,261.09 L180.00,255.98 L181.00,250.39 L182.00,244.39 L183.00,238.09 L184.00,231.61 L185.00,225.09 L186.00,218.69 L187.00,212.57 L188.00,206.90 L189.00,201.82 L190.00,197.46 L191.00,193.91 L192.00,191.22 L193.00,189.42 L194.00,188.78 L195.00,189.52 L196.00,191.50 L197.00,194.52 L198.00,198.41 L199.00,202.98 L200.00,208.06 L201.00,213.50 L202.00,219.11 L203.00,224.73 L204.00,230.18 L205.00,235.30 L206.00,239.97 L207.00,244.13 L208.00,247.74 L209.00,250.82 L210.00,253.41 L211.00,255.55 L212.00,257.33 L213.00,258.79 L214.00,260.02 L215.00,261.06 L216.00,261.96 L217.00,262.75 L218.00,263.48 L219.00,264.16 L220.00,264.80 L221.00,265.42 L222.00,266.03 L223.00,266.63 L224.00,267.22 L225.00,267.81 L226.00,268.40 L227.00,268.99 L228.00,269.57 L229.00,270.16 L230.00,270.75 L231.00,271.33 L232.00,271.92 L233.00,272.51 L234.00,273.09 L235.00,273.68 L236.00,274.26 L237.00,274.85 L238.00,275.44 L239.00,276.02 L240.00,276.61 L241.00,277.20 L242.00,277.78 L243.00,278.37 L244.00,278.96 L245.00,279.54 L246.00,280.13 L247.00,280.72 L248.00,281.30 L249.00,281.89 L250.00,282.48" fill="none" stroke="#2c3ae0" stroke-width="1.3" stroke-linejoin="round"/>
<text transform="translate(31.90,293.40) scale(0.955,1)" font-size="9.3" text-anchor="end" font-weight="bold" font-family="Liberation Sans" fill="#1c1c1c" stroke="#1c1c1c" stroke-width="0.15">0.0</text>
<text transform="translate(31.00,222.00) scale(0.955,1)" font-size="9.3" text-anchor="end" font-weight="bold" font-family="Liberation Sans" fill="#1c1c1c" stroke="#1c1c1c" stroke-width="0.15">20.0</text>
<text transform="translate(32.20,150.60) scale(0.955,1)" font-size="9.3" text-anchor="end" font-weight="bold" font-family="Liberation Sans" fill="#1c1c1c" stroke="#1c1c1c" stroke-width="0.15">40.0</text>
<text transform="translate(30.70,79.20) scale(0.955,1)" font-size="9.3" text-anchor="end" font-weight="bold" font-family="Liberation Sans" fill="#1c1c1c" stroke="#1c1c1c" stroke-width="0.15">60.0</text>
<text transform="translate(32.20,7.80) scale(0.955,1)" font-size="9.3" text-anchor="end" font-weight="bold" font-family="Liberation Sans" fill="#1c1c1c" stroke="#1c1c1c" stroke-width="0.15">80.0</text>
<text transform="translate(34.90,301.50) scale(0.955,1)" font-size="9.3" text-anchor="middle" font-weight="bold" font-family="Liberation Sans" fill="#1c1c1c" stroke="#1c1c1c" stroke-width="0.15">-1.0</text>
<text transform="translate(108.50,302.00) scale(0.955,1)" font-size="9.3" text-anchor="middle" font-weight="bold" font-family="Liberation Sans" fill="#1c1c1c" stroke="#1c1c1c" stroke-width="0.15">-0.8</text>
<text transform="translate(180.60,302.00) scale(0.955,1)" font-size="9.3" text-anchor="middle" font-weight="bold" font-family="Liberation Sans" fill="#1c1c1c" stroke="#1c1c1c" stroke-width="0.15">-0.6</text>
<text transform="translate(254.30,302.00) scale(0.955,1)" font-size="9.3" text-anchor="middle" font-weight="bold" font-family="Liberation Sans" fill="#1c1c1c" stroke="#1c1c1c" stroke-width="0.15">-0.4</text>
<text transform="translate(326.90,301.00) scale(0.955,1)" font-size="9.3" text-anchor="middle" font-weight="bold" font-family="Liberation Sans" fill="#1c1c1c" stroke="#1c1c1c" stroke-width="0.15">-0.2</text>
<text transform="translate(187.35,315.40) scale(0.8921,1)" font-size="9.9" text-anchor="middle" font-weight="bold" font-family="Liberation Sans" fill="#1c1c1c" stroke="#1c1c1c" stroke-width="0.15">E / V <tspan font-style="italic">vs.</tspan> Ag/AgCl/KCl</text>
<text transform="translate(7.80,146.40) rotate(-90) scale(0.93,1)" x="0" y="0" font-size="9.8" text-anchor="middle" font-weight="bold" font-family="Liberation Sans" fill="#1c1c1c">I / µA</text>
<text x="45.40" y="33.80" font-size="17" text-anchor="start" font-weight="bold" font-family="Liberation Sans" fill="#1c1c1c" >A</text>
<text x="115.50" y="15.60" font-size="9.1" text-anchor="middle" font-weight="bold" font-family="Liberation Sans" fill="#1c1c1c" >Cd <tspan font-family="Liberation Serif">(<tspan font-size="88%">II</tspan>)</tspan></text>
<text x="192.90" y="178.30" font-size="9.1" text-anchor="middle" font-weight="bold" font-family="Liberation Sans" fill="#1c1c1c" >Pb <tspan font-family="Liberation Serif">(<tspan font-size="88%">II</tspan>)</tspan></text>
<line x1="76.60" y1="153.00" x2="76.60" y2="95.10" stroke="#222" stroke-width="1.1" />
<polygon points="74.60,96.30 78.60,96.30 76.60,92.10" fill="#111"/>
<text x="75.40" y="89.00" font-size="9.1" text-anchor="middle" font-weight="bold" font-family="Liberation Sans" fill="#1c1c1c" >10</text>
<text x="76.70" y="162.10" font-size="9.1" text-anchor="middle" font-weight="bold" font-family="Liberation Sans" fill="#1c1c1c" >1</text>
<line x1="204.40" y1="148.48" x2="292.97" y2="28.99" stroke="#6a6a6a" stroke-width="0.9" />
<line x1="204.40" y1="142.83" x2="204.40" y2="152.03" stroke="#8a8a8a" stroke-width="0.7" />
<line x1="203.00" y1="142.83" x2="205.80" y2="142.83" stroke="#8a8a8a" stroke-width="0.8" />
<line x1="203.00" y1="152.03" x2="205.80" y2="152.03" stroke="#8a8a8a" stroke-width="0.8" />
<line x1="209.61" y1="138.81" x2="209.61" y2="148.01" stroke="#8a8a8a" stroke-width="0.7" />
<line x1="208.21" y1="138.81" x2="211.01" y2="138.81" stroke="#8a8a8a" stroke-width="0.8" />
<line x1="208.21" y1="148.01" x2="211.01" y2="148.01" stroke="#8a8a8a" stroke-width="0.8" />
<line x1="214.82" y1="128.76" x2="214.82" y2="137.96" stroke="#8a8a8a" stroke-width="0.7" />
<line x1="213.42" y1="128.76" x2="216.22" y2="128.76" stroke="#8a8a8a" stroke-width="0.8" />
<line x1="213.42" y1="137.96" x2="216.22" y2="137.96" stroke="#8a8a8a" stroke-width="0.8" />
<line x1="220.03" y1="120.05" x2="220.03" y2="129.25" stroke="#8a8a8a" stroke-width="0.7" />
<line x1="218.63" y1="120.05" x2="221.43" y2="120.05" stroke="#8a8a8a" stroke-width="0.8" />
<line x1="218.63" y1="129.25" x2="221.43" y2="129.25" stroke="#8a8a8a" stroke-width="0.8" />
<line x1="235.66" y1="104.98" x2="235.66" y2="114.18" stroke="#8a8a8a" stroke-width="0.7" />
<line x1="234.26" y1="104.98" x2="237.06" y2="104.98" stroke="#8a8a8a" stroke-width="0.8" />
<line x1="234.26" y1="114.18" x2="237.06" y2="114.18" stroke="#8a8a8a" stroke-width="0.8" />
<line x1="246.08" y1="86.55" x2="246.08" y2="95.75" stroke="#8a8a8a" stroke-width="0.7" />
<line x1="244.68" y1="86.55" x2="247.48" y2="86.55" stroke="#8a8a8a" stroke-width="0.8" />
<line x1="244.68" y1="95.75" x2="247.48" y2="95.75" stroke="#8a8a8a" stroke-width="0.8" />
<line x1="256.50" y1="74.83" x2="256.50" y2="84.03" stroke="#8a8a8a" stroke-width="0.7" />
<line x1="255.10" y1="74.83" x2="257.90" y2="74.83" stroke="#8a8a8a" stroke-width="0.8" />
<line x1="255.10" y1="84.03" x2="257.90" y2="84.03" stroke="#8a8a8a" stroke-width="0.8" />
<line x1="266.92" y1="61.43" x2="266.92" y2="70.62" stroke="#8a8a8a" stroke-width="0.7" />
<line x1="265.52" y1="61.43" x2="268.32" y2="61.43" stroke="#8a8a8a" stroke-width="0.8" />
<line x1="265.52" y1="70.62" x2="268.32" y2="70.62" stroke="#8a8a8a" stroke-width="0.8" />
<line x1="277.34" y1="44.68" x2="277.34" y2="53.88" stroke="#8a8a8a" stroke-width="0.7" />
<line x1="275.94" y1="44.68" x2="278.74" y2="44.68" stroke="#8a8a8a" stroke-width="0.8" />
<line x1="275.94" y1="53.88" x2="278.74" y2="53.88" stroke="#8a8a8a" stroke-width="0.8" />
<line x1="292.97" y1="22.90" x2="292.97" y2="32.10" stroke="#8a8a8a" stroke-width="0.7" />
<line x1="291.57" y1="22.90" x2="294.37" y2="22.90" stroke="#8a8a8a" stroke-width="0.8" />
<line x1="291.57" y1="32.10" x2="294.37" y2="32.10" stroke="#8a8a8a" stroke-width="0.8" />
<circle cx="204.40" cy="147.43" r="3.0" fill="url(#ballA)"/>
<circle cx="209.61" cy="143.41" r="3.0" fill="url(#ballA)"/>
<circle cx="214.82" cy="133.36" r="3.0" fill="url(#ballA)"/>
<circle cx="220.03" cy="124.65" r="3.0" fill="url(#ballA)"/>
<circle cx="235.66" cy="109.58" r="3.0" fill="url(#ballA)"/>
<circle cx="246.08" cy="91.15" r="3.0" fill="url(#ballA)"/>
<circle cx="256.50" cy="79.43" r="3.0" fill="url(#ballA)"/>
<circle cx="266.92" cy="66.03" r="3.0" fill="url(#ballA)"/>
<circle cx="277.34" cy="49.28" r="3.0" fill="url(#ballA)"/>
<circle cx="292.97" cy="27.50" r="3.0" fill="url(#ballA)"/>
<line x1="204.40" y1="20.80" x2="204.40" y2="154.80" stroke="#a0a0a0" stroke-width="1.4" />
<path d="M204.40,20.80 L308.60,20.80 L308.60,154.80" fill="none" stroke="#8c8c8c" stroke-width="1.4"/>
<line x1="203.70" y1="154.80" x2="309.30" y2="154.80" stroke="#707070" stroke-width="1.5" />
<line x1="202.40" y1="154.80" x2="205.90" y2="154.80" stroke="#777" stroke-width="0.8" />
<text x="198.20" y="157.15" font-size="6.7" text-anchor="end" font-weight="bold" font-family="Liberation Sans" fill="#1c1c1c" stroke="#1c1c1c" stroke-width="0.22">0</text>
<line x1="202.40" y1="121.30" x2="205.90" y2="121.30" stroke="#777" stroke-width="0.8" />
<text x="198.20" y="123.65" font-size="6.7" text-anchor="end" font-weight="bold" font-family="Liberation Sans" fill="#1c1c1c" stroke="#1c1c1c" stroke-width="0.22">20</text>
<line x1="202.40" y1="87.80" x2="205.90" y2="87.80" stroke="#777" stroke-width="0.8" />
<text x="198.20" y="90.15" font-size="6.7" text-anchor="end" font-weight="bold" font-family="Liberation Sans" fill="#1c1c1c" stroke="#1c1c1c" stroke-width="0.22">40</text>
<line x1="202.40" y1="54.30" x2="205.90" y2="54.30" stroke="#777" stroke-width="0.8" />
<text x="198.20" y="56.65" font-size="6.7" text-anchor="end" font-weight="bold" font-family="Liberation Sans" fill="#1c1c1c" stroke="#1c1c1c" stroke-width="0.22">60</text>
<line x1="202.40" y1="20.80" x2="205.90" y2="20.80" stroke="#777" stroke-width="0.8" />
<text x="198.20" y="23.15" font-size="6.7" text-anchor="end" font-weight="bold" font-family="Liberation Sans" fill="#1c1c1c" stroke="#1c1c1c" stroke-width="0.22">80</text>
<line x1="204.40" y1="156.80" x2="204.40" y2="153.30" stroke="#777" stroke-width="0.8" />
<text x="204.40" y="165.20" font-size="6.7" text-anchor="middle" font-weight="bold" font-family="Liberation Sans" fill="#1c1c1c" stroke="#1c1c1c" stroke-width="0.22">0</text>
<line x1="230.45" y1="156.80" x2="230.45" y2="153.30" stroke="#777" stroke-width="0.8" />
<text x="230.45" y="165.20" font-size="6.7" text-anchor="middle" font-weight="bold" font-family="Liberation Sans" fill="#1c1c1c" stroke="#1c1c1c" stroke-width="0.22">25</text>
<line x1="256.50" y1="156.80" x2="256.50" y2="153.30" stroke="#777" stroke-width="0.8" />
<text x="256.50" y="165.20" font-size="6.7" text-anchor="middle" font-weight="bold" font-family="Liberation Sans" fill="#1c1c1c" stroke="#1c1c1c" stroke-width="0.22">50</text>
<line x1="282.55" y1="156.80" x2="282.55" y2="153.30" stroke="#777" stroke-width="0.8" />
<text x="282.55" y="165.20" font-size="6.7" text-anchor="middle" font-weight="bold" font-family="Liberation Sans" fill="#1c1c1c" stroke="#1c1c1c" stroke-width="0.22">75</text>
<line x1="308.60" y1="156.80" x2="308.60" y2="153.30" stroke="#777" stroke-width="0.8" />
<text x="308.60" y="165.20" font-size="6.7" text-anchor="middle" font-weight="bold" font-family="Liberation Sans" fill="#1c1c1c" stroke="#1c1c1c" stroke-width="0.22">100</text>
<text x="258.00" y="175.60" font-size="7.7" text-anchor="middle" font-weight="bold" font-family="Liberation Sans" fill="#1c1c1c" stroke="#1c1c1c" stroke-width="0.22">[Cd <tspan font-family="Liberation Serif">(II)</tspan>] / µg/L</text>
<text transform="translate(186.60,89.30) rotate(-90) scale(0.93,1)" x="0" y="0" font-size="8.5" text-anchor="middle" font-weight="bold" font-family="Liberation Sans" fill="#1c1c1c">I / µA</text>
<text x="244.00" y="39.70" font-size="7.0" text-anchor="middle" font-weight="bold" font-family="Liberation Sans" fill="#1c1c1c" stroke="#1c1c1c" stroke-width="0.22" textLength="68.3" lengthAdjust="spacingAndGlyphs">y = 0.8392x + 3.7757</text>
<text x="244.00" y="47.30" font-size="7.0" text-anchor="middle" font-weight="bold" font-family="Liberation Sans" fill="#1c1c1c" stroke="#1c1c1c" stroke-width="0.22">R² = 0.9979</text>
<line x1="382.80" y1="4.30" x2="677.10" y2="4.30" stroke="#3a3a3a" stroke-width="1.3" />
<line x1="382.80" y1="289.90" x2="677.10" y2="289.90" stroke="#4a4a4a" stroke-width="1.4" />
<line x1="382.80" y1="3.65" x2="382.80" y2="290.60" stroke="#4f4f4f" stroke-width="1.5" />
<line x1="677.10" y1="3.65" x2="677.10" y2="290.60" stroke="#5a5a5a" stroke-width="1.6" />
<line x1="674.90" y1="218.50" x2="677.10" y2="218.50" stroke="#5a5a5a" stroke-width="1.1" />
<line x1="674.90" y1="147.10" x2="677.10" y2="147.10" stroke="#5a5a5a" stroke-width="1.1" />
<line x1="674.90" y1="75.70" x2="677.10" y2="75.70" stroke="#5a5a5a" stroke-width="1.1" />
<line x1="456.38" y1="289.90" x2="456.38" y2="292.10" stroke="#666" stroke-width="1.0" />
<line x1="529.95" y1="289.90" x2="529.95" y2="292.10" stroke="#666" stroke-width="1.0" />
<line x1="603.53" y1="289.90" x2="603.53" y2="292.10" stroke="#666" stroke-width="1.0" />
<path d="M383.50,287.30 L384.50,286.96 L385.50,286.58 L386.50,286.16 L387.50,285.70 L388.50,285.19 L389.50,284.62 L390.50,284.00 L391.50,283.31 L392.50,282.56 L393.50,281.73 L394.50,280.83 L395.50,279.85 L396.50,278.79 L397.50,277.64 L398.50,276.39 L399.50,275.05 L400.50,273.61 L401.50,272.06 L402.50,270.41 L403.50,268.65 L404.50,266.78 L405.50,264.80 L406.50,262.71 L407.50,260.52 L408.50,258.22 L409.50,255.82 L410.50,253.34 L411.50,250.76 L412.50,248.11 L413.50,245.40 L414.50,242.64 L415.50,239.84 L416.50,237.03 L417.50,234.23 L418.50,231.46 L419.50,228.74 L420.50,226.12 L421.50,223.62 L422.50,221.28 L423.50,219.15 L424.50,217.28 L425.50,215.74 L426.50,214.64 L427.50,214.30 L428.50,215.72 L429.50,218.11 L430.50,221.15 L431.50,224.66 L432.50,228.49 L433.50,232.53 L434.50,236.66 L435.50,240.82 L436.50,244.94 L437.50,248.95 L438.50,252.82 L439.50,256.50 L440.50,259.98 L441.50,263.23 L442.50,266.24 L443.50,269.02 L444.50,271.56 L445.50,273.86 L446.50,275.93 L447.50,277.80 L448.50,279.45 L449.50,280.92 L450.50,282.22 L451.50,283.35 L452.50,284.34 L453.50,285.20 L454.50,285.94 L455.50,286.58 L456.50,287.12 L457.50,287.59 L458.50,287.98 L459.50,288.31 L460.50,288.59 L461.50,288.83 L462.50,289.02 L463.50,289.18 L464.50,289.32 L465.50,289.43 L466.50,289.52 L467.50,289.59 L468.50,289.64 L469.50,289.69 L470.50,289.72 L471.50,289.74 L472.50,289.76 L473.50,289.76 L474.50,289.75 L475.50,289.73 L476.50,289.70 L477.50,289.65 L478.50,289.58 L479.50,289.49 L480.50,289.37 L481.50,289.21 L482.50,289.01 L483.50,288.75 L484.50,288.44 L485.50,288.05 L486.50,287.58 L487.50,287.01 L488.50,286.35 L489.50,285.57 L490.50,284.68 L491.50,283.67 L492.50,282.55 L493.50,281.32 L494.50,280.01 L495.50,278.64 L496.50,277.25 L497.50,275.90 L498.50,274.65 L499.50,273.60 L500.50,272.99 L501.50,272.97 L502.50,273.33 L503.50,273.96 L504.50,274.80 L505.50,275.78 L506.50,276.83 L507.50,277.89 L508.50,278.94 L509.50,279.92 L510.50,280.82 L511.50,281.62 L512.50,282.31 L513.50,282.90 L514.50,283.40 L515.50,283.82 L516.50,284.17 L517.50,284.47 L518.50,284.74 L519.50,284.98 L520.50,285.20 L521.50,285.41 L522.50,285.61 L523.50,285.80 L524.50,286.00 L525.50,286.19 L526.50,286.38 L527.50,286.57 L528.50,286.76 L529.50,286.95 L530.50,287.14 L531.50,287.33 L532.50,287.52 L533.50,287.71 L534.50,287.90 L535.50,288.09 L536.50,288.28 L537.50,288.47 L538.50,288.66 L539.50,288.85 L540.50,289.04 L541.50,289.23 L542.50,289.42 L543.50,289.61 L544.50,289.80 L545.50,289.90" fill="none" stroke="#86bde3" stroke-width="1.3" stroke-linejoin="round"/>
<path d="M383.50,287.79 L384.50,287.50 L385.50,287.18 L386.50,286.82 L387.50,286.42 L388.50,285.97 L389.50,285.47 L390.50,284.92 L391.50,284.31 L392.50,283.64 L393.50,282.90 L394.50,282.09 L395.50,281.20 L396.50,280.23 L397.50,279.17 L398.50,278.02 L399.50,276.77 L400.50,275.42 L401.50,273.97 L402.50,272.40 L403.50,270.73 L404.50,268.94 L405.50,267.03 L406.50,265.01 L407.50,262.87 L408.50,260.61 L409.50,258.24 L410.50,255.76 L411.50,253.18 L412.50,250.50 L413.50,247.74 L414.50,244.91 L415.50,242.01 L416.50,239.08 L417.50,236.12 L418.50,233.16 L419.50,230.23 L420.50,227.36 L421.50,224.57 L422.50,221.90 L423.50,219.40 L424.50,217.11 L425.50,215.10 L426.50,213.42 L427.50,212.19 L428.50,211.67 L429.50,213.00 L430.50,215.39 L431.50,218.48 L432.50,222.07 L433.50,226.00 L434.50,230.15 L435.50,234.43 L436.50,238.73 L437.50,242.99 L438.50,247.15 L439.50,251.17 L440.50,254.99 L441.50,258.61 L442.50,262.00 L443.50,265.14 L444.50,268.03 L445.50,270.68 L446.50,273.09 L447.50,275.26 L448.50,277.20 L449.50,278.94 L450.50,280.47 L451.50,281.83 L452.50,283.02 L453.50,284.06 L454.50,284.96 L455.50,285.73 L456.50,286.40 L457.50,286.98 L458.50,287.46 L459.50,287.88 L460.50,288.23 L461.50,288.52 L462.50,288.77 L463.50,288.97 L464.50,289.14 L465.50,289.28 L466.50,289.39 L467.50,289.48 L468.50,289.55 L469.50,289.60 L470.50,289.63 L471.50,289.65 L472.50,289.65 L473.50,289.63 L474.50,289.59 L475.50,289.52 L476.50,289.42 L477.50,289.28 L478.50,289.10 L479.50,288.85 L480.50,288.52 L481.50,288.10 L482.50,287.57 L483.50,286.90 L484.50,286.06 L485.50,285.03 L486.50,283.77 L487.50,282.25 L488.50,280.43 L489.50,278.28 L490.50,275.78 L491.50,272.89 L492.50,269.62 L493.50,265.96 L494.50,261.94 L495.50,257.60 L496.50,253.01 L497.50,248.29 L498.50,243.58 L499.50,239.06 L500.50,234.98 L501.50,231.68 L502.50,229.88 L503.50,230.52 L504.50,232.77 L505.50,236.26 L506.50,240.62 L507.50,245.48 L508.50,250.51 L509.50,255.43 L510.50,260.04 L511.50,264.18 L512.50,267.76 L513.50,270.78 L514.50,273.23 L515.50,275.18 L516.50,276.70 L517.50,277.87 L518.50,278.76 L519.50,279.45 L520.50,279.98 L521.50,280.42 L522.50,280.78 L523.50,281.09 L524.50,281.38 L525.50,281.65 L526.50,281.91 L527.50,282.17 L528.50,282.42 L529.50,282.67 L530.50,282.92 L531.50,283.18 L532.50,283.43 L533.50,283.68 L534.50,283.93 L535.50,284.18 L536.50,284.43 L537.50,284.68 L538.50,284.93 L539.50,285.18 L540.50,285.43 L541.50,285.68 L542.50,285.93 L543.50,286.18 L544.50,286.43 L545.50,286.68" fill="none" stroke="#86bde3" stroke-width="1.3" stroke-linejoin="round"/>
<path d="M383.50,288.06 L384.50,287.80 L385.50,287.50 L386.50,287.18 L387.50,286.81 L388.50,286.40 L389.50,285.95 L390.50,285.44 L391.50,284.88 L392.50,284.25 L393.50,283.57 L394.50,282.81 L395.50,281.98 L396.50,281.07 L397.50,280.07 L398.50,278.98 L399.50,277.80 L400.50,276.52 L401.50,275.14 L402.50,273.65 L403.50,272.04 L404.50,270.33 L405.50,268.50 L406.50,266.54 L407.50,264.48 L408.50,262.29 L409.50,260.00 L410.50,257.59 L411.50,255.08 L412.50,252.47 L413.50,249.77 L414.50,247.00 L415.50,244.17 L416.50,241.29 L417.50,238.39 L418.50,235.48 L419.50,232.60 L420.50,229.77 L421.50,227.03 L422.50,224.41 L423.50,221.95 L424.50,219.71 L425.50,217.74 L426.50,216.12 L427.50,214.95 L428.50,214.59 L429.50,216.00 L430.50,218.38 L431.50,221.41 L432.50,224.91 L433.50,228.72 L434.50,232.74 L435.50,236.86 L436.50,241.01 L437.50,245.11 L438.50,249.11 L439.50,252.96 L440.50,256.63 L441.50,260.09 L442.50,263.33 L443.50,266.33 L444.50,269.10 L445.50,271.62 L446.50,273.92 L447.50,275.99 L448.50,277.84 L449.50,279.49 L450.50,280.96 L451.50,282.25 L452.50,283.38 L453.50,284.36 L454.50,285.22 L455.50,285.96 L456.50,286.59 L457.50,287.13 L458.50,287.59 L459.50,287.98 L460.50,288.31 L461.50,288.59 L462.50,288.82 L463.50,289.01 L464.50,289.17 L465.50,289.29 L466.50,289.39 L467.50,289.46 L468.50,289.51 L469.50,289.54 L470.50,289.54 L471.50,289.53 L472.50,289.48 L473.50,289.40 L474.50,289.28 L475.50,289.11 L476.50,288.89 L477.50,288.58 L478.50,288.19 L479.50,287.68 L480.50,287.03 L481.50,286.21 L482.50,285.18 L483.50,283.89 L484.50,282.30 L485.50,280.35 L486.50,277.99 L487.50,275.14 L488.50,271.74 L489.50,267.72 L490.50,263.01 L491.50,257.56 L492.50,251.31 L493.50,244.23 L494.50,236.30 L495.50,227.54 L496.50,218.01 L497.50,207.81 L498.50,197.09 L499.50,186.06 L500.50,175.01 L501.50,164.31 L502.50,154.41 L503.50,145.92 L504.50,139.71 L505.50,138.28 L506.50,142.91 L507.50,151.92 L508.50,164.10 L509.50,178.24 L510.50,193.15 L511.50,207.82 L512.50,221.49 L513.50,233.63 L514.50,243.95 L515.50,252.40 L516.50,259.08 L517.50,264.18 L518.50,267.96 L519.50,270.70 L520.50,272.65 L521.50,274.03 L522.50,275.00 L523.50,275.70 L524.50,276.23 L525.50,276.66 L526.50,277.01 L527.50,277.34 L528.50,277.64 L529.50,277.93 L530.50,278.21 L531.50,278.50 L532.50,278.78 L533.50,279.06 L534.50,279.35 L535.50,279.63 L536.50,279.91 L537.50,280.20 L538.50,280.48 L539.50,280.77 L540.50,281.05 L541.50,281.33 L542.50,281.62 L543.50,281.90 L544.50,282.18 L545.50,282.47" fill="none" stroke="#86bde3" stroke-width="1.3" stroke-linejoin="round"/>
<path d="M383.50,287.02 L384.50,286.66 L385.50,286.25 L386.50,285.80 L387.50,285.31 L388.50,284.76 L389.50,284.16 L390.50,283.49 L391.50,282.77 L392.50,281.97 L393.50,281.10 L394.50,280.15 L395.50,279.13 L396.50,278.01 L397.50,276.80 L398.50,275.50 L399.50,274.10 L400.50,272.60 L401.50,270.99 L402.50,269.28 L403.50,267.45 L404.50,265.52 L405.50,263.47 L406.50,261.31 L407.50,259.05 L408.50,256.68 L409.50,254.21 L410.50,251.64 L411.50,248.99 L412.50,246.26 L413.50,243.46 L414.50,240.61 L415.50,237.73 L416.50,234.82 L417.50,231.92 L418.50,229.05 L419.50,226.23 L420.50,223.49 L421.50,220.86 L422.50,218.39 L423.50,216.11 L424.50,214.09 L425.50,212.37 L426.50,211.04 L427.50,210.26 L428.50,211.05 L429.50,213.21 L430.50,216.17 L431.50,219.69 L432.50,223.60 L433.50,227.78 L434.50,232.10 L435.50,236.48 L436.50,240.84 L437.50,245.12 L438.50,249.25 L439.50,253.21 L440.50,256.96 L441.50,260.48 L442.50,263.75 L443.50,266.78 L444.50,269.55 L445.50,272.07 L446.50,274.35 L447.50,276.40 L448.50,278.23 L449.50,279.85 L450.50,281.29 L451.50,282.55 L452.50,283.65 L453.50,284.60 L454.50,285.43 L455.50,286.14 L456.50,286.75 L457.50,287.27 L458.50,287.71 L459.50,288.09 L460.50,288.40 L461.50,288.66 L462.50,288.87 L463.50,289.04 L464.50,289.18 L465.50,289.28 L466.50,289.36 L467.50,289.40 L468.50,289.42 L469.50,289.41 L470.50,289.37 L471.50,289.29 L472.50,289.17 L473.50,289.00 L474.50,288.76 L475.50,288.46 L476.50,288.05 L477.50,287.54 L478.50,286.89 L479.50,286.06 L480.50,285.04 L481.50,283.76 L482.50,282.19 L483.50,280.26 L484.50,277.92 L485.50,275.09 L486.50,271.70 L487.50,267.66 L488.50,262.89 L489.50,257.29 L490.50,250.78 L491.50,243.28 L492.50,234.69 L493.50,224.97 L494.50,214.06 L495.50,201.95 L496.50,188.65 L497.50,174.24 L498.50,158.81 L499.50,142.55 L500.50,125.69 L501.50,108.58 L502.50,91.61 L503.50,75.31 L504.50,60.32 L505.50,47.46 L506.50,37.90 L507.50,34.99 L508.50,43.40 L509.50,60.49 L510.50,83.72 L511.50,110.45 L512.50,138.21 L513.50,164.94 L514.50,189.13 L515.50,209.89 L516.50,226.87 L517.50,240.17 L518.50,250.17 L519.50,257.40 L520.50,262.46 L521.50,265.90 L522.50,268.19 L523.50,269.70 L524.50,270.71 L525.50,271.40 L526.50,271.91 L527.50,272.31 L528.50,272.66 L529.50,272.98 L530.50,273.29 L531.50,273.59 L532.50,273.89 L533.50,274.20 L534.50,274.50 L535.50,274.80 L536.50,275.10 L537.50,275.41 L538.50,275.71 L539.50,276.02 L540.50,276.32 L541.50,276.63 L542.50,276.93 L543.50,277.24 L544.50,277.54 L545.50,277.85" fill="none" stroke="#86bde3" stroke-width="1.3" stroke-linejoin="round"/>
<path d="M383.50,287.89 L384.50,287.61 L385.50,287.30 L386.50,286.95 L387.50,286.55 L388.50,286.12 L389.50,285.63 L390.50,285.09 L391.50,284.49 L392.50,283.83 L393.50,283.11 L394.50,282.31 L395.50,281.43 L396.50,280.47 L397.50,279.42 L398.50,278.28 L399.50,277.04 L400.50,275.70 L401.50,274.25 L402.50,272.70 L403.50,271.03 L404.50,269.24 L405.50,267.34 L406.50,265.32 L407.50,263.17 L408.50,260.92 L409.50,258.55 L410.50,256.06 L411.50,253.48 L412.50,250.80 L413.50,248.04 L414.50,245.20 L415.50,242.31 L416.50,239.37 L417.50,236.42 L418.50,233.47 L419.50,230.56 L420.50,227.70 L421.50,224.94 L422.50,222.31 L423.50,219.86 L424.50,217.64 L425.50,215.71 L426.50,214.15 L427.50,213.07 L428.50,213.05 L429.50,214.74 L430.50,217.33 L431.50,220.54 L432.50,224.19 L433.50,228.14 L434.50,232.28 L435.50,236.51 L436.50,240.74 L437.50,244.92 L438.50,248.98 L439.50,252.88 L440.50,256.60 L441.50,260.09 L442.50,263.36 L443.50,266.38 L444.50,269.16 L445.50,271.70 L446.50,274.00 L447.50,276.07 L448.50,277.92 L449.50,279.57 L450.50,281.03 L451.50,282.32 L452.50,283.44 L453.50,284.42 L454.50,285.27 L455.50,286.00 L456.50,286.63 L457.50,287.17 L458.50,287.63 L459.50,288.02 L460.50,288.34 L461.50,288.62 L462.50,288.85 L463.50,289.04 L464.50,289.20 L465.50,289.33 L466.50,289.43 L467.50,289.52 L468.50,289.59 L469.50,289.64 L470.50,289.68 L471.50,289.70 L472.50,289.72 L473.50,289.72 L474.50,289.70 L475.50,289.68 L476.50,289.63 L477.50,289.56 L478.50,289.46 L479.50,289.33 L480.50,289.15 L481.50,288.93 L482.50,288.64 L483.50,288.28 L484.50,287.84 L485.50,287.28 L486.50,286.61 L487.50,285.81 L488.50,284.85 L489.50,283.73 L490.50,282.43 L491.50,280.96 L492.50,279.31 L493.50,277.50 L494.50,275.54 L495.50,273.48 L496.50,271.36 L497.50,269.26 L498.50,267.27 L499.50,265.51 L500.50,264.19 L501.50,263.81 L502.50,264.20 L503.50,265.13 L504.50,266.46 L505.50,268.08 L506.50,269.85 L507.50,271.67 L508.50,273.45 L509.50,275.14 L510.50,276.68 L511.50,278.04 L512.50,279.20 L513.50,280.18 L514.50,280.99 L515.50,281.65 L516.50,282.18 L517.50,282.62 L518.50,282.99 L519.50,283.31 L520.50,283.58 L521.50,283.84 L522.50,284.08 L523.50,284.30 L524.50,284.53 L525.50,284.75 L526.50,284.96 L527.50,285.18 L528.50,285.39 L529.50,285.61 L530.50,285.82 L531.50,286.04 L532.50,286.25 L533.50,286.47 L534.50,286.68 L535.50,286.90 L536.50,287.11 L537.50,287.33 L538.50,287.54 L539.50,287.76 L540.50,287.97 L541.50,288.19 L542.50,288.41 L543.50,288.62 L544.50,288.84 L545.50,289.05" fill="none" stroke="#34466b" stroke-width="1.3" stroke-linejoin="round"/>
<path d="M383.50,287.87 L384.50,287.58 L385.50,287.26 L386.50,286.90 L387.50,286.50 L388.50,286.05 L389.50,285.55 L390.50,285.00 L391.50,284.38 L392.50,283.70 L393.50,282.95 L394.50,282.13 L395.50,281.22 L396.50,280.23 L397.50,279.15 L398.50,277.97 L399.50,276.69 L400.50,275.31 L401.50,273.81 L402.50,272.21 L403.50,270.48 L404.50,268.64 L405.50,266.68 L406.50,264.59 L407.50,262.39 L408.50,260.07 L409.50,257.63 L410.50,255.09 L411.50,252.44 L412.50,249.70 L413.50,246.89 L414.50,244.00 L415.50,241.07 L416.50,238.11 L417.50,235.14 L418.50,232.19 L419.50,229.29 L420.50,226.47 L421.50,223.78 L422.50,221.24 L423.50,218.92 L424.50,216.87 L425.50,215.16 L426.50,213.91 L427.50,213.39 L428.50,214.68 L429.50,217.02 L430.50,220.04 L431.50,223.55 L432.50,227.40 L433.50,231.46 L434.50,235.64 L435.50,239.85 L436.50,244.02 L437.50,248.09 L438.50,252.01 L439.50,255.76 L440.50,259.30 L441.50,262.61 L442.50,265.68 L443.50,268.51 L444.50,271.10 L445.50,273.45 L446.50,275.58 L447.50,277.48 L448.50,279.18 L449.50,280.68 L450.50,282.01 L451.50,283.17 L452.50,284.18 L453.50,285.07 L454.50,285.83 L455.50,286.48 L456.50,287.04 L457.50,287.52 L458.50,287.92 L459.50,288.26 L460.50,288.55 L461.50,288.79 L462.50,288.99 L463.50,289.15 L464.50,289.29 L465.50,289.40 L466.50,289.48 L467.50,289.55 L468.50,289.60 L469.50,289.63 L470.50,289.65 L471.50,289.64 L472.50,289.62 L473.50,289.57 L474.50,289.50 L475.50,289.39 L476.50,289.24 L477.50,289.04 L478.50,288.77 L479.50,288.42 L480.50,287.97 L481.50,287.39 L482.50,286.65 L483.50,285.73 L484.50,284.58 L485.50,283.17 L486.50,281.44 L487.50,279.36 L488.50,276.86 L489.50,273.91 L490.50,270.45 L491.50,266.46 L492.50,261.89 L493.50,256.74 L494.50,251.03 L495.50,244.78 L496.50,238.08 L497.50,231.04 L498.50,223.81 L499.50,216.61 L500.50,209.73 L501.50,203.51 L502.50,198.44 L503.50,195.40 L504.50,196.35 L505.50,200.14 L506.50,206.12 L507.50,213.61 L508.50,221.98 L509.50,230.61 L510.50,239.01 L511.50,246.80 L512.50,253.71 L513.50,259.62 L514.50,264.51 L515.50,268.42 L516.50,271.46 L517.50,273.76 L518.50,275.48 L519.50,276.75 L520.50,277.69 L521.50,278.38 L522.50,278.92 L523.50,279.34 L524.50,279.70 L525.50,280.02 L526.50,280.31 L527.50,280.59 L528.50,280.86 L529.50,281.13 L530.50,281.39 L531.50,281.65 L532.50,281.92 L533.50,282.18 L534.50,282.44 L535.50,282.71 L536.50,282.97 L537.50,283.23 L538.50,283.50 L539.50,283.76 L540.50,284.02 L541.50,284.29 L542.50,284.55 L543.50,284.82 L544.50,285.08 L545.50,285.34" fill="none" stroke="#34466b" stroke-width="1.3" stroke-linejoin="round"/>
<path d="M383.50,287.14 L384.50,286.78 L385.50,286.39 L386.50,285.95 L387.50,285.46 L388.50,284.93 L389.50,284.34 L390.50,283.69 L391.50,282.97 L392.50,282.19 L393.50,281.34 L394.50,280.41 L395.50,279.39 L396.50,278.30 L397.50,277.11 L398.50,275.82 L399.50,274.44 L400.50,272.96 L401.50,271.37 L402.50,269.68 L403.50,267.87 L404.50,265.96 L405.50,263.94 L406.50,261.81 L407.50,259.57 L408.50,257.23 L409.50,254.79 L410.50,252.26 L411.50,249.65 L412.50,246.96 L413.50,244.22 L414.50,241.42 L415.50,238.60 L416.50,235.76 L417.50,232.94 L418.50,230.15 L419.50,227.42 L420.50,224.79 L421.50,222.29 L422.50,219.96 L423.50,217.84 L424.50,215.99 L425.50,214.48 L426.50,213.42 L427.50,213.24 L428.50,214.80 L429.50,217.31 L430.50,220.45 L431.50,224.05 L432.50,227.97 L433.50,232.08 L434.50,236.28 L435.50,240.50 L436.50,244.67 L437.50,248.73 L438.50,252.64 L439.50,256.36 L440.50,259.87 L441.50,263.14 L442.50,266.18 L443.50,268.97 L444.50,271.52 L445.50,273.84 L446.50,275.92 L447.50,277.79 L448.50,279.45 L449.50,280.93 L450.50,282.22 L451.50,283.36 L452.50,284.35 L453.50,285.21 L454.50,285.95 L455.50,286.59 L456.50,287.13 L457.50,287.59 L458.50,287.99 L459.50,288.32 L460.50,288.59 L461.50,288.82 L462.50,289.01 L463.50,289.17 L464.50,289.29 L465.50,289.39 L466.50,289.46 L467.50,289.52 L468.50,289.55 L469.50,289.55 L470.50,289.54 L471.50,289.50 L472.50,289.42 L473.50,289.31 L474.50,289.16 L475.50,288.95 L476.50,288.67 L477.50,288.31 L478.50,287.84 L479.50,287.24 L480.50,286.47 L481.50,285.52 L482.50,284.32 L483.50,282.84 L484.50,281.01 L485.50,278.79 L486.50,276.10 L487.50,272.87 L488.50,269.02 L489.50,264.48 L490.50,259.18 L491.50,253.04 L492.50,246.00 L493.50,238.01 L494.50,229.06 L495.50,219.14 L496.50,208.31 L497.50,196.64 L498.50,184.28 L499.50,171.43 L500.50,158.38 L501.50,145.47 L502.50,133.16 L503.50,122.01 L504.50,112.79 L505.50,106.68 L506.50,107.50 L507.50,115.23 L508.50,128.05 L509.50,144.38 L510.50,162.61 L511.50,181.29 L512.50,199.20 L513.50,215.46 L514.50,229.55 L515.50,241.24 L516.50,250.57 L517.50,257.75 L518.50,263.09 L519.50,266.95 L520.50,269.68 L521.50,271.57 L522.50,272.87 L523.50,273.78 L524.50,274.43 L525.50,274.93 L526.50,275.33 L527.50,275.67 L528.50,275.99 L529.50,276.29 L530.50,276.59 L531.50,276.88 L532.50,277.17 L533.50,277.46 L534.50,277.75 L535.50,278.04 L536.50,278.33 L537.50,278.63 L538.50,278.92 L539.50,279.21 L540.50,279.50 L541.50,279.79 L542.50,280.08 L543.50,280.38 L544.50,280.67 L545.50,280.96" fill="none" stroke="#34466b" stroke-width="1.3" stroke-linejoin="round"/>
<path d="M383.50,287.25 L384.50,286.91 L385.50,286.54 L386.50,286.12 L387.50,285.66 L388.50,285.15 L389.50,284.58 L390.50,283.96 L391.50,283.29 L392.50,282.54 L393.50,281.73 L394.50,280.84 L395.50,279.88 L396.50,278.83 L397.50,277.70 L398.50,276.48 L399.50,275.16 L400.50,273.75 L401.50,272.24 L402.50,270.62 L403.50,268.90 L404.50,267.08 L405.50,265.15 L406.50,263.11 L407.50,260.98 L408.50,258.74 L409.50,256.40 L410.50,253.98 L411.50,251.47 L412.50,248.89 L413.50,246.25 L414.50,243.56 L415.50,240.83 L416.50,238.09 L417.50,235.35 L418.50,232.64 L419.50,229.97 L420.50,227.39 L421.50,224.92 L422.50,222.59 L423.50,220.46 L424.50,218.56 L425.50,216.96 L426.50,215.75 L427.50,215.09 L428.50,216.01 L429.50,218.13 L430.50,220.97 L431.50,224.32 L432.50,228.03 L433.50,231.96 L434.50,236.03 L435.50,240.15 L436.50,244.24 L437.50,248.24 L438.50,252.11 L439.50,255.81 L440.50,259.31 L441.50,262.59 L442.50,265.64 L443.50,268.46 L444.50,271.04 L445.50,273.38 L446.50,275.50 L447.50,277.40 L448.50,279.10 L449.50,280.61 L450.50,281.94 L451.50,283.11 L452.50,284.12 L453.50,285.01 L454.50,285.78 L455.50,286.44 L456.50,287.00 L457.50,287.48 L458.50,287.89 L459.50,288.24 L460.50,288.53 L461.50,288.77 L462.50,288.98 L463.50,289.14 L464.50,289.28 L465.50,289.40 L466.50,289.49 L467.50,289.56 L468.50,289.62 L469.50,289.66 L470.50,289.69 L471.50,289.70 L472.50,289.70 L473.50,289.69 L474.50,289.66 L475.50,289.61 L476.50,289.53 L477.50,289.42 L478.50,289.28 L479.50,289.08 L480.50,288.83 L481.50,288.50 L482.50,288.09 L483.50,287.56 L484.50,286.91 L485.50,286.10 L486.50,285.12 L487.50,283.93 L488.50,282.52 L489.50,280.85 L490.50,278.92 L491.50,276.70 L492.50,274.20 L493.50,271.43 L494.50,268.40 L495.50,265.17 L496.50,261.80 L497.50,258.38 L498.50,255.05 L499.50,251.95 L500.50,249.32 L501.50,247.51 L502.50,247.41 L503.50,248.53 L504.50,250.57 L505.50,253.27 L506.50,256.40 L507.50,259.74 L508.50,263.08 L509.50,266.28 L510.50,269.22 L511.50,271.83 L512.50,274.07 L513.50,275.94 L514.50,277.46 L515.50,278.68 L516.50,279.63 L517.50,280.38 L518.50,280.97 L519.50,281.45 L520.50,281.83 L521.50,282.17 L522.50,282.46 L523.50,282.73 L524.50,282.98 L525.50,283.23 L526.50,283.47 L527.50,283.70 L528.50,283.94 L529.50,284.17 L530.50,284.41 L531.50,284.64 L532.50,284.88 L533.50,285.11 L534.50,285.35 L535.50,285.58 L536.50,285.82 L537.50,286.05 L538.50,286.29 L539.50,286.52 L540.50,286.76 L541.50,286.99 L542.50,287.23 L543.50,287.46 L544.50,287.70 L545.50,287.93" fill="none" stroke="#2c3ae0" stroke-width="1.3" stroke-linejoin="round"/>
<path d="M383.50,287.51 L384.50,287.20 L385.50,286.84 L386.50,286.45 L387.50,286.01 L388.50,285.53 L389.50,284.99 L390.50,284.40 L391.50,283.74 L392.50,283.03 L393.50,282.24 L394.50,281.37 L395.50,280.43 L396.50,279.41 L397.50,278.30 L398.50,277.09 L399.50,275.79 L400.50,274.38 L401.50,272.87 L402.50,271.26 L403.50,269.53 L404.50,267.69 L405.50,265.74 L406.50,263.67 L407.50,261.49 L408.50,259.21 L409.50,256.81 L410.50,254.32 L411.50,251.73 L412.50,249.06 L413.50,246.31 L414.50,243.50 L415.50,240.64 L416.50,237.76 L417.50,234.87 L418.50,231.99 L419.50,229.16 L420.50,226.40 L421.50,223.74 L422.50,221.22 L423.50,218.89 L424.50,216.79 L425.50,214.99 L426.50,213.56 L427.50,212.65 L428.50,213.01 L429.50,214.92 L430.50,217.66 L431.50,220.98 L432.50,224.72 L433.50,228.73 L434.50,232.91 L435.50,237.16 L436.50,241.41 L437.50,245.58 L438.50,249.63 L439.50,253.51 L440.50,257.19 L441.50,260.66 L442.50,263.89 L443.50,266.87 L444.50,269.61 L445.50,272.11 L446.50,274.37 L447.50,276.41 L448.50,278.22 L449.50,279.84 L450.50,281.27 L451.50,282.53 L452.50,283.63 L453.50,284.58 L454.50,285.41 L455.50,286.12 L456.50,286.74 L457.50,287.26 L458.50,287.70 L459.50,288.08 L460.50,288.39 L461.50,288.66 L462.50,288.88 L463.50,289.06 L464.50,289.21 L465.50,289.33 L466.50,289.43 L467.50,289.50 L468.50,289.55 L469.50,289.58 L470.50,289.60 L471.50,289.59 L472.50,289.56 L473.50,289.50 L474.50,289.40 L475.50,289.27 L476.50,289.09 L477.50,288.84 L478.50,288.52 L479.50,288.09 L480.50,287.55 L481.50,286.86 L482.50,285.99 L483.50,284.90 L484.50,283.54 L485.50,281.88 L486.50,279.85 L487.50,277.40 L488.50,274.48 L489.50,271.01 L490.50,266.95 L491.50,262.25 L492.50,256.87 L493.50,250.79 L494.50,244.00 L495.50,236.54 L496.50,228.47 L497.50,219.90 L498.50,210.99 L499.50,201.96 L500.50,193.10 L501.50,184.77 L502.50,177.44 L503.50,171.77 L504.50,169.35 L505.50,171.89 L506.50,177.94 L507.50,186.63 L508.50,197.06 L509.50,208.34 L510.50,219.69 L511.50,230.49 L512.50,240.29 L513.50,248.81 L514.50,255.93 L515.50,261.69 L516.50,266.20 L517.50,269.62 L518.50,272.16 L519.50,274.02 L520.50,275.35 L521.50,276.32 L522.50,277.03 L523.50,277.57 L524.50,278.00 L525.50,278.36 L526.50,278.68 L527.50,278.98 L528.50,279.26 L529.50,279.54 L530.50,279.82 L531.50,280.09 L532.50,280.37 L533.50,280.64 L534.50,280.91 L535.50,281.19 L536.50,281.46 L537.50,281.74 L538.50,282.01 L539.50,282.29 L540.50,282.56 L541.50,282.83 L542.50,283.11 L543.50,283.38 L544.50,283.66 L545.50,283.93" fill="none" stroke="#2c3ae0" stroke-width="1.3" stroke-linejoin="round"/>
<path d="M383.50,287.69 L384.50,287.39 L385.50,287.06 L386.50,286.69 L387.50,286.27 L388.50,285.81 L389.50,285.29 L390.50,284.72 L391.50,284.09 L392.50,283.40 L393.50,282.64 L394.50,281.80 L395.50,280.89 L396.50,279.89 L397.50,278.80 L398.50,277.62 L399.50,276.34 L400.50,274.96 L401.50,273.48 L402.50,271.88 L403.50,270.17 L404.50,268.35 L405.50,266.41 L406.50,264.35 L407.50,262.18 L408.50,259.89 L409.50,257.50 L410.50,254.99 L411.50,252.39 L412.50,249.70 L413.50,246.93 L414.50,244.09 L415.50,241.20 L416.50,238.28 L417.50,235.34 L418.50,232.41 L419.50,229.52 L420.50,226.69 L421.50,223.97 L422.50,221.38 L423.50,218.98 L424.50,216.81 L425.50,214.93 L426.50,213.43 L427.50,212.43 L428.50,212.60 L429.50,214.41 L430.50,217.09 L431.50,220.37 L432.50,224.09 L433.50,228.09 L434.50,232.28 L435.50,236.54 L436.50,240.80 L437.50,245.00 L438.50,249.08 L439.50,252.99 L440.50,256.71 L441.50,260.21 L442.50,263.48 L443.50,266.50 L444.50,269.27 L445.50,271.80 L446.50,274.10 L447.50,276.16 L448.50,278.01 L449.50,279.65 L450.50,281.10 L451.50,282.38 L452.50,283.50 L453.50,284.47 L454.50,285.31 L455.50,286.04 L456.50,286.67 L457.50,287.20 L458.50,287.65 L459.50,288.03 L460.50,288.35 L461.50,288.62 L462.50,288.84 L463.50,289.02 L464.50,289.17 L465.50,289.28 L466.50,289.37 L467.50,289.43 L468.50,289.46 L469.50,289.47 L470.50,289.45 L471.50,289.40 L472.50,289.31 L473.50,289.18 L474.50,289.00 L475.50,288.76 L476.50,288.43 L477.50,288.01 L478.50,287.47 L479.50,286.78 L480.50,285.91 L481.50,284.83 L482.50,283.48 L483.50,281.82 L484.50,279.78 L485.50,277.31 L486.50,274.33 L487.50,270.76 L488.50,266.52 L489.50,261.54 L490.50,255.72 L491.50,249.00 L492.50,241.29 L493.50,232.56 L494.50,222.75 L495.50,211.88 L496.50,199.97 L497.50,187.09 L498.50,173.38 L499.50,159.04 L500.50,144.31 L501.50,129.56 L502.50,115.21 L503.50,101.82 L504.50,90.07 L505.50,80.93 L506.50,76.53 L507.50,81.37 L508.50,93.45 L509.50,110.88 L510.50,131.67 L511.50,153.87 L512.50,175.82 L513.50,196.20 L514.50,214.16 L515.50,229.26 L516.50,241.43 L517.50,250.86 L518.50,257.91 L519.50,263.00 L520.50,266.58 L521.50,269.03 L522.50,270.70 L523.50,271.83 L524.50,272.62 L525.50,273.19 L526.50,273.63 L527.50,274.00 L528.50,274.33 L529.50,274.64 L530.50,274.95 L531.50,275.24 L532.50,275.54 L533.50,275.84 L534.50,276.13 L535.50,276.43 L536.50,276.73 L537.50,277.03 L538.50,277.33 L539.50,277.62 L540.50,277.92 L541.50,278.22 L542.50,278.52 L543.50,278.82 L544.50,279.12 L545.50,279.42" fill="none" stroke="#2c3ae0" stroke-width="1.3" stroke-linejoin="round"/>
<text transform="translate(379.60,293.20) scale(0.955,1)" font-size="9.3" text-anchor="end" font-weight="bold" font-family="Liberation Sans" fill="#1c1c1c" stroke="#1c1c1c" stroke-width="0.15">0.0</text>
<text transform="translate(377.50,221.80) scale(0.955,1)" font-size="9.3" text-anchor="end" font-weight="bold" font-family="Liberation Sans" fill="#1c1c1c" stroke="#1c1c1c" stroke-width="0.15">25.0</text>
<text transform="translate(378.40,150.40) scale(0.955,1)" font-size="9.3" text-anchor="end" font-weight="bold" font-family="Liberation Sans" fill="#1c1c1c" stroke="#1c1c1c" stroke-width="0.15">50.0</text>
<text transform="translate(378.20,79.00) scale(0.955,1)" font-size="9.3" text-anchor="end" font-weight="bold" font-family="Liberation Sans" fill="#1c1c1c" stroke="#1c1c1c" stroke-width="0.15">75.0</text>
<text transform="translate(379.60,7.60) scale(0.955,1)" font-size="9.3" text-anchor="end" font-weight="bold" font-family="Liberation Sans" fill="#1c1c1c" stroke="#1c1c1c" stroke-width="0.15">100.0</text>
<text transform="translate(382.00,301.40) scale(0.955,1)" font-size="9.3" text-anchor="middle" font-weight="bold" font-family="Liberation Sans" fill="#1c1c1c" stroke="#1c1c1c" stroke-width="0.15">- 0.9</text>
<text transform="translate(455.57,301.40) scale(0.955,1)" font-size="9.3" text-anchor="middle" font-weight="bold" font-family="Liberation Sans" fill="#1c1c1c" stroke="#1c1c1c" stroke-width="0.15">-0.7</text>
<text transform="translate(529.15,301.40) scale(0.955,1)" font-size="9.3" text-anchor="middle" font-weight="bold" font-family="Liberation Sans" fill="#1c1c1c" stroke="#1c1c1c" stroke-width="0.15">-0.5</text>
<text transform="translate(602.73,301.40) scale(0.955,1)" font-size="9.3" text-anchor="middle" font-weight="bold" font-family="Liberation Sans" fill="#1c1c1c" stroke="#1c1c1c" stroke-width="0.15">-0.3</text>
<text transform="translate(676.30,301.40) scale(0.955,1)" font-size="9.3" text-anchor="middle" font-weight="bold" font-family="Liberation Sans" fill="#1c1c1c" stroke="#1c1c1c" stroke-width="0.15">-0.1</text>
<text transform="translate(522.25,314.30) scale(0.9103,1)" font-size="9.9" text-anchor="middle" font-weight="bold" font-family="Liberation Sans" fill="#1c1c1c" stroke="#1c1c1c" stroke-width="0.15">E / V <tspan font-style="italic">vs.</tspan> Ag/AgCl/KCl</text>
<text transform="translate(353.50,145.10) rotate(-90) scale(0.975,1)" x="0" y="0" font-size="9.6" text-anchor="middle" font-weight="bold" font-family="Liberation Sans" fill="#1c1c1c">I / µA</text>
<text x="394.30" y="34.60" font-size="17" text-anchor="start" font-weight="bold" font-family="Liberation Sans" fill="#1c1c1c" >B</text>
<text x="428.30" y="206.00" font-size="9.1" text-anchor="middle" font-weight="bold" font-family="Liberation Sans" fill="#1c1c1c" >Cd <tspan font-family="Liberation Serif">(<tspan font-size="88%">II</tspan>)</tspan></text>
<text x="507.00" y="27.60" font-size="9.4" text-anchor="middle" font-weight="bold" font-family="Liberation Sans" fill="#1c1c1c" >Pb <tspan font-family="Liberation Serif">(<tspan font-size="88%">II</tspan>)</tspan></text>
<line x1="476.30" y1="168.10" x2="476.30" y2="109.50" stroke="#333" stroke-width="1.1" />
<polygon points="474.30,110.70 478.30,110.70 476.30,106.50" fill="#111"/>
<text x="475.00" y="103.30" font-size="9.6" text-anchor="middle" font-weight="bold" font-family="Liberation Sans" fill="#1c1c1c" >10</text>
<text x="476.20" y="178.90" font-size="9.6" text-anchor="middle" font-weight="bold" font-family="Liberation Sans" fill="#1c1c1c" >1</text>
<line x1="558.30" y1="169.50" x2="647.38" y2="50.44" stroke="#6a6a6a" stroke-width="0.9" />
<line x1="558.30" y1="163.04" x2="558.30" y2="172.24" stroke="#8a8a8a" stroke-width="0.7" />
<line x1="556.90" y1="163.04" x2="559.70" y2="163.04" stroke="#8a8a8a" stroke-width="0.8" />
<line x1="556.90" y1="172.24" x2="559.70" y2="172.24" stroke="#8a8a8a" stroke-width="0.8" />
<line x1="563.54" y1="158.77" x2="563.54" y2="167.97" stroke="#8a8a8a" stroke-width="0.7" />
<line x1="562.14" y1="158.77" x2="564.94" y2="158.77" stroke="#8a8a8a" stroke-width="0.8" />
<line x1="562.14" y1="167.97" x2="564.94" y2="167.97" stroke="#8a8a8a" stroke-width="0.8" />
<line x1="568.78" y1="150.21" x2="568.78" y2="159.41" stroke="#8a8a8a" stroke-width="0.7" />
<line x1="567.38" y1="150.21" x2="570.18" y2="150.21" stroke="#8a8a8a" stroke-width="0.8" />
<line x1="567.38" y1="159.41" x2="570.18" y2="159.41" stroke="#8a8a8a" stroke-width="0.8" />
<line x1="574.02" y1="141.65" x2="574.02" y2="150.85" stroke="#8a8a8a" stroke-width="0.7" />
<line x1="572.62" y1="141.65" x2="575.42" y2="141.65" stroke="#8a8a8a" stroke-width="0.8" />
<line x1="572.62" y1="150.85" x2="575.42" y2="150.85" stroke="#8a8a8a" stroke-width="0.8" />
<line x1="589.74" y1="124.54" x2="589.74" y2="133.74" stroke="#8a8a8a" stroke-width="0.7" />
<line x1="588.34" y1="124.54" x2="591.14" y2="124.54" stroke="#8a8a8a" stroke-width="0.8" />
<line x1="588.34" y1="133.74" x2="591.14" y2="133.74" stroke="#8a8a8a" stroke-width="0.8" />
<line x1="600.22" y1="111.71" x2="600.22" y2="120.91" stroke="#8a8a8a" stroke-width="0.7" />
<line x1="598.82" y1="111.71" x2="601.62" y2="111.71" stroke="#8a8a8a" stroke-width="0.8" />
<line x1="598.82" y1="120.91" x2="601.62" y2="120.91" stroke="#8a8a8a" stroke-width="0.8" />
<line x1="610.70" y1="96.02" x2="610.70" y2="105.22" stroke="#8a8a8a" stroke-width="0.7" />
<line x1="609.30" y1="96.02" x2="612.10" y2="96.02" stroke="#8a8a8a" stroke-width="0.8" />
<line x1="609.30" y1="105.22" x2="612.10" y2="105.22" stroke="#8a8a8a" stroke-width="0.8" />
<line x1="621.18" y1="80.34" x2="621.18" y2="89.54" stroke="#8a8a8a" stroke-width="0.7" />
<line x1="619.78" y1="80.34" x2="622.58" y2="80.34" stroke="#8a8a8a" stroke-width="0.8" />
<line x1="619.78" y1="89.54" x2="622.58" y2="89.54" stroke="#8a8a8a" stroke-width="0.8" />
<line x1="631.66" y1="66.08" x2="631.66" y2="75.28" stroke="#8a8a8a" stroke-width="0.7" />
<line x1="630.26" y1="66.08" x2="633.06" y2="66.08" stroke="#8a8a8a" stroke-width="0.8" />
<line x1="630.26" y1="75.28" x2="633.06" y2="75.28" stroke="#8a8a8a" stroke-width="0.8" />
<line x1="647.38" y1="44.69" x2="647.38" y2="53.89" stroke="#8a8a8a" stroke-width="0.7" />
<line x1="645.98" y1="44.69" x2="648.78" y2="44.69" stroke="#8a8a8a" stroke-width="0.8" />
<line x1="645.98" y1="53.89" x2="648.78" y2="53.89" stroke="#8a8a8a" stroke-width="0.8" />
<circle cx="558.30" cy="167.64" r="3.0" fill="url(#ball)"/>
<circle cx="563.54" cy="163.37" r="3.0" fill="url(#ball)"/>
<circle cx="568.78" cy="154.81" r="3.0" fill="url(#ball)"/>
<circle cx="574.02" cy="146.25" r="3.0" fill="url(#ball)"/>
<circle cx="589.74" cy="129.14" r="3.0" fill="url(#ball)"/>
<circle cx="600.22" cy="116.31" r="3.0" fill="url(#ball)"/>
<circle cx="610.70" cy="100.62" r="3.0" fill="url(#ball)"/>
<circle cx="621.18" cy="84.94" r="3.0" fill="url(#ball)"/>
<circle cx="631.66" cy="70.68" r="3.0" fill="url(#ball)"/>
<circle cx="647.38" cy="49.29" r="3.0" fill="url(#ball)"/>
<line x1="558.30" y1="33.60" x2="558.30" y2="176.20" stroke="#a0a0a0" stroke-width="1.4" />
<path d="M558.30,33.60 L663.10,33.60 L663.10,176.20" fill="none" stroke="#8c8c8c" stroke-width="1.4"/>
<line x1="557.60" y1="176.20" x2="663.80" y2="176.20" stroke="#707070" stroke-width="1.5" />
<line x1="556.30" y1="176.20" x2="559.80" y2="176.20" stroke="#777" stroke-width="0.8" />
<text x="553.30" y="178.55" font-size="6.7" text-anchor="end" font-weight="bold" font-family="Liberation Sans" fill="#1c1c1c" stroke="#1c1c1c" stroke-width="0.22">0</text>
<line x1="556.30" y1="140.55" x2="559.80" y2="140.55" stroke="#777" stroke-width="0.8" />
<text x="553.30" y="142.90" font-size="6.7" text-anchor="end" font-weight="bold" font-family="Liberation Sans" fill="#1c1c1c" stroke="#1c1c1c" stroke-width="0.22">25</text>
<line x1="556.30" y1="104.90" x2="559.80" y2="104.90" stroke="#777" stroke-width="0.8" />
<text x="553.30" y="107.25" font-size="6.7" text-anchor="end" font-weight="bold" font-family="Liberation Sans" fill="#1c1c1c" stroke="#1c1c1c" stroke-width="0.22">50</text>
<line x1="556.30" y1="69.25" x2="559.80" y2="69.25" stroke="#777" stroke-width="0.8" />
<text x="553.30" y="71.60" font-size="6.7" text-anchor="end" font-weight="bold" font-family="Liberation Sans" fill="#1c1c1c" stroke="#1c1c1c" stroke-width="0.22">75</text>
<line x1="556.30" y1="33.60" x2="559.80" y2="33.60" stroke="#777" stroke-width="0.8" />
<text x="553.30" y="35.95" font-size="6.7" text-anchor="end" font-weight="bold" font-family="Liberation Sans" fill="#1c1c1c" stroke="#1c1c1c" stroke-width="0.22">100</text>
<line x1="558.30" y1="178.20" x2="558.30" y2="174.70" stroke="#777" stroke-width="0.8" />
<text x="558.30" y="187.70" font-size="6.7" text-anchor="middle" font-weight="bold" font-family="Liberation Sans" fill="#1c1c1c" stroke="#1c1c1c" stroke-width="0.22">0</text>
<line x1="584.50" y1="178.20" x2="584.50" y2="174.70" stroke="#777" stroke-width="0.8" />
<text x="584.50" y="187.70" font-size="6.7" text-anchor="middle" font-weight="bold" font-family="Liberation Sans" fill="#1c1c1c" stroke="#1c1c1c" stroke-width="0.22">25</text>
<line x1="610.70" y1="178.20" x2="610.70" y2="174.70" stroke="#777" stroke-width="0.8" />
<text x="610.70" y="187.70" font-size="6.7" text-anchor="middle" font-weight="bold" font-family="Liberation Sans" fill="#1c1c1c" stroke="#1c1c1c" stroke-width="0.22">50</text>
<line x1="636.90" y1="178.20" x2="636.90" y2="174.70" stroke="#777" stroke-width="0.8" />
<text x="636.90" y="187.70" font-size="6.7" text-anchor="middle" font-weight="bold" font-family="Liberation Sans" fill="#1c1c1c" stroke="#1c1c1c" stroke-width="0.22">75</text>
<line x1="663.10" y1="178.20" x2="663.10" y2="174.70" stroke="#777" stroke-width="0.8" />
<text x="663.10" y="187.70" font-size="6.7" text-anchor="middle" font-weight="bold" font-family="Liberation Sans" fill="#1c1c1c" stroke="#1c1c1c" stroke-width="0.22">100</text>
<text x="615.70" y="198.60" font-size="7.7" text-anchor="middle" font-weight="bold" font-family="Liberation Sans" fill="#1c1c1c" stroke="#1c1c1c" stroke-width="0.22"><tspan font-size="7.95">[Pb (II)] / µg/L</tspan></text>
<text transform="translate(538.50,104.90) rotate(-90) scale(1.0,1)" x="0" y="0" font-size="8.5" text-anchor="middle" font-weight="bold" font-family="Liberation Sans" fill="#1c1c1c">I / µA</text>
<text x="602.60" y="43.90" font-size="7.0" text-anchor="middle" font-weight="bold" font-family="Liberation Sans" fill="#1c1c1c" stroke="#1c1c1c" stroke-width="0.22" textLength="70.2" lengthAdjust="spacingAndGlyphs">y = 0.9822x + 4.7014</text>
<text x="602.60" y="52.10" font-size="7.0" text-anchor="middle" font-weight="bold" font-family="Liberation Sans" fill="#1c1c1c" stroke="#1c1c1c" stroke-width="0.22">R² = 0.9986</text>
<line x1="207.30" y1="340.20" x2="502.30" y2="340.20" stroke="#3a3a3a" stroke-width="1.3" />
<line x1="207.30" y1="627.20" x2="502.30" y2="627.20" stroke="#4a4a4a" stroke-width="1.4" />
<line x1="207.30" y1="339.55" x2="207.30" y2="627.90" stroke="#4f4f4f" stroke-width="1.5" />
<line x1="502.30" y1="339.55" x2="502.30" y2="627.90" stroke="#5a5a5a" stroke-width="1.6" />
<line x1="500.10" y1="555.45" x2="502.30" y2="555.45" stroke="#5a5a5a" stroke-width="1.1" />
<line x1="500.10" y1="483.70" x2="502.30" y2="483.70" stroke="#5a5a5a" stroke-width="1.1" />
<line x1="500.10" y1="411.95" x2="502.30" y2="411.95" stroke="#5a5a5a" stroke-width="1.1" />
<line x1="281.05" y1="627.20" x2="281.05" y2="629.40" stroke="#666" stroke-width="1.0" />
<line x1="354.80" y1="627.20" x2="354.80" y2="629.40" stroke="#666" stroke-width="1.0" />
<line x1="428.55" y1="627.20" x2="428.55" y2="629.40" stroke="#666" stroke-width="1.0" />
<path d="M215.50,627.20 L216.50,627.20 L217.50,627.20 L218.50,627.20 L219.50,627.20 L220.50,627.20 L221.50,627.20 L222.50,627.20 L223.50,627.20 L224.50,627.20 L225.50,627.20 L226.50,627.20 L227.50,627.20 L228.50,627.20 L229.50,627.20 L230.50,627.19 L231.50,627.19 L232.50,627.19 L233.50,627.18 L234.50,627.18 L235.50,627.17 L236.50,627.16 L237.50,627.15 L238.50,627.13 L239.50,627.11 L240.50,627.08 L241.50,627.04 L242.50,627.00 L243.50,626.94 L244.50,626.87 L245.50,626.79 L246.50,626.69 L247.50,626.57 L248.50,626.43 L249.50,626.27 L250.50,626.08 L251.50,625.87 L252.50,625.62 L253.50,625.35 L254.50,625.05 L255.50,624.71 L256.50,624.36 L257.50,623.98 L258.50,623.58 L259.50,623.18 L260.50,622.77 L261.50,622.36 L262.50,621.97 L263.50,621.61 L264.50,621.28 L265.50,621.01 L266.50,620.80 L267.50,620.68 L268.50,620.68 L269.50,620.87 L270.50,621.17 L271.50,621.55 L272.50,621.98 L273.50,622.44 L274.50,622.91 L275.50,623.37 L276.50,623.82 L277.50,624.25 L278.50,624.65 L279.50,625.01 L280.50,625.34 L281.50,625.63 L282.50,625.89 L283.50,626.12 L284.50,626.31 L285.50,626.48 L286.50,626.61 L287.50,626.73 L288.50,626.83 L289.50,626.90 L290.50,626.97 L291.50,627.02 L292.50,627.06 L293.50,627.09 L294.50,627.12 L295.50,627.14 L296.50,627.15 L297.50,627.16 L298.50,627.17 L299.50,627.18 L300.50,627.18 L301.50,627.19 L302.50,627.19 L303.50,627.19 L304.50,627.19 L305.50,627.18 L306.50,627.18 L307.50,627.17 L308.50,627.16 L309.50,627.14 L310.50,627.12 L311.50,627.09 L312.50,627.05 L313.50,626.99 L314.50,626.92 L315.50,626.83 L316.50,626.72 L317.50,626.58 L318.50,626.42 L319.50,626.22 L320.50,625.99 L321.50,625.73 L322.50,625.44 L323.50,625.13 L324.50,624.80 L325.50,624.48 L326.50,624.18 L327.50,623.93 L328.50,623.77 L329.50,623.80 L330.50,623.93 L331.50,624.12 L332.50,624.35 L333.50,624.58 L334.50,624.77 L335.50,624.90 L336.50,624.97 L337.50,624.97 L338.50,624.94 L339.50,624.88 L340.50,624.83 L341.50,624.78 L342.50,624.75 L343.50,624.73 L344.50,624.73 L345.50,624.74 L346.50,624.75 L347.50,624.77 L348.50,624.80 L349.50,624.82 L350.50,624.85 L351.50,624.88 L352.50,624.92 L353.50,624.95 L354.50,624.98 L355.50,625.02 L356.50,625.05 L357.50,625.08 L358.50,625.12 L359.50,625.15 L360.50,625.19 L361.50,625.22 L362.50,625.26 L363.50,625.29 L364.50,625.33 L365.50,625.36 L366.50,625.40" fill="none" stroke="#86bde3" stroke-width="1.3" stroke-linejoin="round"/>
<path d="M215.50,627.20 L216.50,627.20 L217.50,627.20 L218.50,627.20 L219.50,627.20 L220.50,627.20 L221.50,627.20 L222.50,627.20 L223.50,627.20 L224.50,627.19 L225.50,627.19 L226.50,627.19 L227.50,627.18 L228.50,627.18 L229.50,627.17 L230.50,627.16 L231.50,627.14 L232.50,627.12 L233.50,627.09 L234.50,627.05 L235.50,627.00 L236.50,626.93 L237.50,626.85 L238.50,626.74 L239.50,626.61 L240.50,626.44 L241.50,626.22 L242.50,625.96 L243.50,625.64 L244.50,625.24 L245.50,624.77 L246.50,624.20 L247.50,623.53 L248.50,622.73 L249.50,621.81 L250.50,620.76 L251.50,619.55 L252.50,618.18 L253.50,616.66 L254.50,614.98 L255.50,613.15 L256.50,611.17 L257.50,609.07 L258.50,606.87 L259.50,604.60 L260.50,602.30 L261.50,600.01 L262.50,597.80 L263.50,595.70 L264.50,593.80 L265.50,592.14 L266.50,590.82 L267.50,589.89 L268.50,589.46 L269.50,590.05 L270.50,591.48 L271.50,593.42 L272.50,595.71 L273.50,598.22 L274.50,600.84 L275.50,603.49 L276.50,606.10 L277.50,608.60 L278.50,610.97 L279.50,613.17 L280.50,615.17 L281.50,616.98 L282.50,618.59 L283.50,620.00 L284.50,621.24 L285.50,622.29 L286.50,623.20 L287.50,623.96 L288.50,624.59 L289.50,625.12 L290.50,625.55 L291.50,625.90 L292.50,626.18 L293.50,626.41 L294.50,626.59 L295.50,626.73 L296.50,626.84 L297.50,626.92 L298.50,626.98 L299.50,627.03 L300.50,627.06 L301.50,627.07 L302.50,627.07 L303.50,627.05 L304.50,627.01 L305.50,626.95 L306.50,626.86 L307.50,626.73 L308.50,626.55 L309.50,626.31 L310.50,625.98 L311.50,625.54 L312.50,624.96 L313.50,624.21 L314.50,623.25 L315.50,622.04 L316.50,620.54 L317.50,618.70 L318.50,616.49 L319.50,613.87 L320.50,610.82 L321.50,607.34 L322.50,603.47 L323.50,599.27 L324.50,594.85 L325.50,590.38 L326.50,586.08 L327.50,582.25 L328.50,579.33 L329.50,578.26 L330.50,579.53 L331.50,582.25 L332.50,586.02 L333.50,590.43 L334.50,595.05 L335.50,599.54 L336.50,603.60 L337.50,607.07 L338.50,609.90 L339.50,612.12 L340.50,613.82 L341.50,615.10 L342.50,616.06 L343.50,616.76 L344.50,617.28 L345.50,617.66 L346.50,617.94 L347.50,618.16 L348.50,618.34 L349.50,618.49 L350.50,618.63 L351.50,618.76 L352.50,618.88 L353.50,619.01 L354.50,619.13 L355.50,619.25 L356.50,619.37 L357.50,619.50 L358.50,619.62 L359.50,619.75 L360.50,619.87 L361.50,619.99 L362.50,620.12 L363.50,620.24 L364.50,620.37 L365.50,620.49 L366.50,620.62" fill="none" stroke="#86bde3" stroke-width="1.3" stroke-linejoin="round"/>
<path d="M215.50,627.20 L216.50,627.20 L217.50,627.20 L218.50,627.20 L219.50,627.19 L220.50,627.19 L221.50,627.19 L222.50,627.18 L223.50,627.17 L224.50,627.16 L225.50,627.15 L226.50,627.13 L227.50,627.11 L228.50,627.07 L229.50,627.03 L230.50,626.97 L231.50,626.90 L232.50,626.80 L233.50,626.67 L234.50,626.51 L235.50,626.30 L236.50,626.05 L237.50,625.72 L238.50,625.31 L239.50,624.81 L240.50,624.19 L241.50,623.44 L242.50,622.52 L243.50,621.42 L244.50,620.10 L245.50,618.54 L246.50,616.70 L247.50,614.56 L248.50,612.07 L249.50,609.21 L250.50,605.96 L251.50,602.28 L252.50,598.16 L253.50,593.59 L254.50,588.57 L255.50,583.12 L256.50,577.24 L257.50,570.99 L258.50,564.42 L259.50,557.61 L260.50,550.63 L261.50,543.61 L262.50,536.65 L263.50,529.92 L264.50,523.54 L265.50,517.70 L266.50,512.57 L267.50,508.32 L268.50,505.17 L269.50,503.33 L270.50,503.77 L271.50,507.33 L272.50,512.74 L273.50,519.42 L274.50,526.95 L275.50,535.00 L276.50,543.30 L277.50,551.60 L278.50,559.73 L279.50,567.52 L280.50,574.86 L281.50,581.69 L282.50,587.95 L283.50,593.61 L284.50,598.68 L285.50,603.16 L286.50,607.08 L287.50,610.49 L288.50,613.41 L289.50,615.91 L290.50,618.01 L291.50,619.77 L292.50,621.23 L293.50,622.43 L294.50,623.41 L295.50,624.20 L296.50,624.84 L297.50,625.34 L298.50,625.73 L299.50,626.02 L300.50,626.23 L301.50,626.36 L302.50,626.43 L303.50,626.42 L304.50,626.34 L305.50,626.17 L306.50,625.91 L307.50,625.52 L308.50,624.98 L309.50,624.26 L310.50,623.29 L311.50,622.04 L312.50,620.44 L313.50,618.40 L314.50,615.84 L315.50,612.66 L316.50,608.77 L317.50,604.07 L318.50,598.45 L319.50,591.84 L320.50,584.17 L321.50,575.42 L322.50,565.60 L323.50,554.82 L324.50,543.22 L325.50,531.09 L326.50,518.78 L327.50,506.82 L328.50,495.88 L329.50,486.85 L330.50,481.11 L331.50,481.94 L332.50,487.63 L333.50,496.85 L334.50,508.60 L335.50,521.83 L336.50,535.54 L337.50,548.86 L338.50,561.12 L339.50,571.93 L340.50,581.11 L341.50,588.68 L342.50,594.77 L343.50,599.56 L344.50,603.25 L345.50,606.03 L346.50,608.10 L347.50,609.60 L348.50,610.69 L349.50,611.48 L350.50,612.06 L351.50,612.50 L352.50,612.84 L353.50,613.13 L354.50,613.38 L355.50,613.61 L356.50,613.83 L357.50,614.04 L358.50,614.25 L359.50,614.46 L360.50,614.67 L361.50,614.88 L362.50,615.09 L363.50,615.29 L364.50,615.50 L365.50,615.71 L366.50,615.92" fill="none" stroke="#86bde3" stroke-width="1.3" stroke-linejoin="round"/>
<path d="M215.50,627.19 L216.50,627.19 L217.50,627.19 L218.50,627.18 L219.50,627.17 L220.50,627.17 L221.50,627.15 L222.50,627.14 L223.50,627.11 L224.50,627.08 L225.50,627.05 L226.50,627.00 L227.50,626.93 L228.50,626.85 L229.50,626.74 L230.50,626.60 L231.50,626.43 L232.50,626.21 L233.50,625.93 L234.50,625.59 L235.50,625.16 L236.50,624.63 L237.50,623.97 L238.50,623.18 L239.50,622.22 L240.50,621.05 L241.50,619.66 L242.50,618.00 L243.50,616.04 L244.50,613.73 L245.50,611.04 L246.50,607.91 L247.50,604.30 L248.50,600.18 L249.50,595.49 L250.50,590.19 L251.50,584.27 L252.50,577.68 L253.50,570.42 L254.50,562.48 L255.50,553.88 L256.50,544.63 L257.50,534.80 L258.50,524.44 L259.50,513.64 L260.50,502.52 L261.50,491.21 L262.50,479.86 L263.50,468.66 L264.50,457.80 L265.50,447.49 L266.50,437.97 L267.50,429.48 L268.50,422.27 L269.50,416.61 L270.50,412.80 L271.50,411.34 L272.50,415.09 L273.50,422.57 L274.50,432.51 L275.50,444.18 L276.50,457.02 L277.50,470.54 L278.50,484.34 L279.50,498.08 L280.50,511.49 L281.50,524.36 L282.50,536.51 L283.50,547.84 L284.50,558.26 L285.50,567.74 L286.50,576.28 L287.50,583.89 L288.50,590.60 L289.50,596.48 L290.50,601.58 L291.50,605.96 L292.50,609.70 L293.50,612.86 L294.50,615.51 L295.50,617.72 L296.50,619.53 L297.50,621.01 L298.50,622.20 L299.50,623.13 L300.50,623.85 L301.50,624.36 L302.50,624.69 L303.50,624.86 L304.50,624.85 L305.50,624.66 L306.50,624.27 L307.50,623.66 L308.50,622.79 L309.50,621.61 L310.50,620.06 L311.50,618.06 L312.50,615.53 L313.50,612.36 L314.50,608.45 L315.50,603.67 L316.50,597.89 L317.50,590.97 L318.50,582.79 L319.50,573.22 L320.50,562.17 L321.50,549.57 L322.50,535.40 L323.50,519.72 L324.50,502.65 L325.50,484.42 L326.50,465.39 L327.50,446.04 L328.50,427.01 L329.50,409.15 L330.50,393.52 L331.50,381.58 L332.50,376.45 L333.50,381.26 L334.50,392.45 L335.50,408.63 L336.50,428.34 L337.50,450.08 L338.50,472.43 L339.50,494.17 L340.50,514.39 L341.50,532.49 L342.50,548.22 L343.50,561.53 L344.50,572.53 L345.50,581.43 L346.50,588.47 L347.50,593.93 L348.50,598.07 L349.50,601.15 L350.50,603.41 L351.50,605.06 L352.50,606.26 L353.50,607.14 L354.50,607.80 L355.50,608.32 L356.50,608.74 L357.50,609.11 L358.50,609.44 L359.50,609.74 L360.50,610.03 L361.50,610.32 L362.50,610.60 L363.50,610.88 L364.50,611.16 L365.50,611.43 L366.50,611.71" fill="none" stroke="#86bde3" stroke-width="1.3" stroke-linejoin="round"/>
<path d="M215.50,627.20 L216.50,627.20 L217.50,627.20 L218.50,627.20 L219.50,627.20 L220.50,627.20 L221.50,627.20 L222.50,627.20 L223.50,627.20 L224.50,627.20 L225.50,627.20 L226.50,627.20 L227.50,627.19 L228.50,627.19 L229.50,627.19 L230.50,627.18 L231.50,627.18 L232.50,627.17 L233.50,627.16 L234.50,627.15 L235.50,627.13 L236.50,627.10 L237.50,627.07 L238.50,627.03 L239.50,626.98 L240.50,626.91 L241.50,626.83 L242.50,626.73 L243.50,626.60 L244.50,626.44 L245.50,626.26 L246.50,626.03 L247.50,625.76 L248.50,625.44 L249.50,625.07 L250.50,624.64 L251.50,624.16 L252.50,623.60 L253.50,622.98 L254.50,622.30 L255.50,621.55 L256.50,620.74 L257.50,619.89 L258.50,618.99 L259.50,618.07 L260.50,617.14 L261.50,616.21 L262.50,615.33 L263.50,614.50 L264.50,613.75 L265.50,613.12 L266.50,612.63 L267.50,612.31 L268.50,612.26 L269.50,612.65 L270.50,613.31 L271.50,614.16 L272.50,615.12 L273.50,616.15 L274.50,617.21 L275.50,618.27 L276.50,619.30 L277.50,620.28 L278.50,621.20 L279.50,622.05 L280.50,622.81 L281.50,623.50 L282.50,624.10 L283.50,624.63 L284.50,625.08 L285.50,625.47 L286.50,625.80 L287.50,626.07 L288.50,626.30 L289.50,626.49 L290.50,626.64 L291.50,626.76 L292.50,626.86 L293.50,626.94 L294.50,627.00 L295.50,627.05 L296.50,627.08 L297.50,627.11 L298.50,627.13 L299.50,627.15 L300.50,627.15 L301.50,627.16 L302.50,627.16 L303.50,627.15 L304.50,627.14 L305.50,627.12 L306.50,627.09 L307.50,627.04 L308.50,626.98 L309.50,626.89 L310.50,626.77 L311.50,626.61 L312.50,626.40 L313.50,626.13 L314.50,625.77 L315.50,625.32 L316.50,624.76 L317.50,624.07 L318.50,623.24 L319.50,622.25 L320.50,621.09 L321.50,619.78 L322.50,618.33 L323.50,616.76 L324.50,615.12 L325.50,613.49 L326.50,611.96 L327.50,610.67 L328.50,609.82 L329.50,609.88 L330.50,610.59 L331.50,611.75 L332.50,613.19 L333.50,614.77 L334.50,616.31 L335.50,617.72 L336.50,618.90 L337.50,619.83 L338.50,620.52 L339.50,621.02 L340.50,621.37 L341.50,621.62 L342.50,621.81 L343.50,621.95 L344.50,622.06 L345.50,622.14 L346.50,622.22 L347.50,622.29 L348.50,622.36 L349.50,622.42 L350.50,622.49 L351.50,622.55 L352.50,622.62 L353.50,622.68 L354.50,622.75 L355.50,622.82 L356.50,622.89 L357.50,622.95 L358.50,623.02 L359.50,623.09 L360.50,623.16 L361.50,623.23 L362.50,623.30 L363.50,623.37 L364.50,623.44 L365.50,623.51 L366.50,623.58" fill="none" stroke="#34466b" stroke-width="1.3" stroke-linejoin="round"/>
<path d="M215.50,627.20 L216.50,627.20 L217.50,627.20 L218.50,627.20 L219.50,627.20 L220.50,627.20 L221.50,627.20 L222.50,627.19 L223.50,627.19 L224.50,627.19 L225.50,627.18 L226.50,627.17 L227.50,627.16 L228.50,627.15 L229.50,627.13 L230.50,627.10 L231.50,627.06 L232.50,627.02 L233.50,626.96 L234.50,626.88 L235.50,626.77 L236.50,626.64 L237.50,626.47 L238.50,626.26 L239.50,625.99 L240.50,625.65 L241.50,625.24 L242.50,624.73 L243.50,624.11 L244.50,623.36 L245.50,622.47 L246.50,621.40 L247.50,620.15 L248.50,618.68 L249.50,616.99 L250.50,615.05 L251.50,612.84 L252.50,610.35 L253.50,607.59 L254.50,604.54 L255.50,601.22 L256.50,597.64 L257.50,593.84 L258.50,589.84 L259.50,585.72 L260.50,581.52 L261.50,577.32 L262.50,573.21 L263.50,569.28 L264.50,565.65 L265.50,562.42 L266.50,559.70 L267.50,557.64 L268.50,556.36 L269.50,556.32 L270.50,558.24 L271.50,561.34 L272.50,565.23 L273.50,569.66 L274.50,574.40 L275.50,579.29 L276.50,584.18 L277.50,588.95 L278.50,593.52 L279.50,597.81 L280.50,601.78 L281.50,605.40 L282.50,608.66 L283.50,611.56 L284.50,614.11 L285.50,616.33 L286.50,618.24 L287.50,619.86 L288.50,621.24 L289.50,622.39 L290.50,623.35 L291.50,624.13 L292.50,624.78 L293.50,625.30 L294.50,625.71 L295.50,626.04 L296.50,626.30 L297.50,626.50 L298.50,626.65 L299.50,626.76 L300.50,626.84 L301.50,626.88 L302.50,626.89 L303.50,626.86 L304.50,626.80 L305.50,626.69 L306.50,626.52 L307.50,626.28 L308.50,625.95 L309.50,625.50 L310.50,624.90 L311.50,624.11 L312.50,623.08 L313.50,621.77 L314.50,620.10 L315.50,618.01 L316.50,615.43 L317.50,612.28 L318.50,608.51 L319.50,604.05 L320.50,598.87 L321.50,592.96 L322.50,586.36 L323.50,579.15 L324.50,571.49 L325.50,563.60 L326.50,555.82 L327.50,548.57 L328.50,542.45 L329.50,538.31 L330.50,538.28 L331.50,541.63 L332.50,547.31 L333.50,554.65 L334.50,562.94 L335.50,571.51 L336.50,579.77 L337.50,587.29 L338.50,593.80 L339.50,599.22 L340.50,603.60 L341.50,607.03 L342.50,609.67 L343.50,611.66 L344.50,613.14 L345.50,614.22 L346.50,615.00 L347.50,615.56 L348.50,615.97 L349.50,616.28 L350.50,616.53 L351.50,616.73 L352.50,616.91 L353.50,617.07 L354.50,617.23 L355.50,617.39 L356.50,617.54 L357.50,617.69 L358.50,617.84 L359.50,617.99 L360.50,618.15 L361.50,618.30 L362.50,618.45 L363.50,618.60 L364.50,618.75 L365.50,618.91 L366.50,619.06" fill="none" stroke="#34466b" stroke-width="1.3" stroke-linejoin="round"/>
<path d="M215.50,627.20 L216.50,627.20 L217.50,627.19 L218.50,627.19 L219.50,627.19 L220.50,627.19 L221.50,627.18 L222.50,627.17 L223.50,627.16 L224.50,627.15 L225.50,627.13 L226.50,627.11 L227.50,627.07 L228.50,627.03 L229.50,626.97 L230.50,626.90 L231.50,626.80 L232.50,626.68 L233.50,626.52 L234.50,626.32 L235.50,626.06 L236.50,625.74 L237.50,625.34 L238.50,624.84 L239.50,624.23 L240.50,623.49 L241.50,622.58 L242.50,621.48 L243.50,620.17 L244.50,618.61 L245.50,616.76 L246.50,614.60 L247.50,612.08 L248.50,609.17 L249.50,605.84 L250.50,602.05 L251.50,597.78 L252.50,593.01 L253.50,587.72 L254.50,581.93 L255.50,575.63 L256.50,568.85 L257.50,561.64 L258.50,554.06 L259.50,546.18 L260.50,538.10 L261.50,529.94 L262.50,521.84 L263.50,513.94 L264.50,506.41 L265.50,499.45 L266.50,493.23 L267.50,487.96 L268.50,483.86 L269.50,481.17 L270.50,480.37 L271.50,483.44 L272.50,489.04 L273.50,496.32 L274.50,504.78 L275.50,513.99 L276.50,523.60 L277.50,533.34 L278.50,542.96 L279.50,552.27 L280.50,561.13 L281.50,569.42 L282.50,577.07 L283.50,584.06 L284.50,590.35 L285.50,595.95 L286.50,600.90 L287.50,605.21 L288.50,608.95 L289.50,612.15 L290.50,614.87 L291.50,617.17 L292.50,619.09 L293.50,620.68 L294.50,621.98 L295.50,623.05 L296.50,623.91 L297.50,624.59 L298.50,625.13 L299.50,625.53 L300.50,625.83 L301.50,626.03 L302.50,626.14 L303.50,626.16 L304.50,626.09 L305.50,625.91 L306.50,625.62 L307.50,625.18 L308.50,624.57 L309.50,623.75 L310.50,622.66 L311.50,621.24 L312.50,619.43 L313.50,617.14 L314.50,614.27 L315.50,610.73 L316.50,606.40 L317.50,601.18 L318.50,594.96 L319.50,587.65 L320.50,579.17 L321.50,569.50 L322.50,558.64 L323.50,546.69 L324.50,533.79 L325.50,520.23 L326.50,506.37 L327.50,492.74 L328.50,480.01 L329.50,469.07 L330.50,461.20 L331.50,459.52 L332.50,464.35 L333.50,473.51 L334.50,485.90 L335.50,500.38 L336.50,515.82 L337.50,531.17 L338.50,545.61 L339.50,558.59 L340.50,569.81 L341.50,579.22 L342.50,586.90 L343.50,593.05 L344.50,597.85 L345.50,601.54 L346.50,604.30 L347.50,606.35 L348.50,607.84 L349.50,608.92 L350.50,609.71 L351.50,610.30 L352.50,610.75 L353.50,611.12 L354.50,611.43 L355.50,611.70 L356.50,611.96 L357.50,612.21 L358.50,612.45 L359.50,612.68 L360.50,612.92 L361.50,613.16 L362.50,613.39 L363.50,613.63 L364.50,613.86 L365.50,614.10 L366.50,614.33" fill="none" stroke="#34466b" stroke-width="1.3" stroke-linejoin="round"/>
<path d="M215.50,627.20 L216.50,627.20 L217.50,627.20 L218.50,627.20 L219.50,627.20 L220.50,627.20 L221.50,627.20 L222.50,627.20 L223.50,627.20 L224.50,627.20 L225.50,627.19 L226.50,627.19 L227.50,627.19 L228.50,627.18 L229.50,627.18 L230.50,627.17 L231.50,627.16 L232.50,627.14 L233.50,627.12 L234.50,627.10 L235.50,627.06 L236.50,627.01 L237.50,626.95 L238.50,626.88 L239.50,626.78 L240.50,626.66 L241.50,626.50 L242.50,626.31 L243.50,626.08 L244.50,625.79 L245.50,625.45 L246.50,625.03 L247.50,624.54 L248.50,623.96 L249.50,623.29 L250.50,622.51 L251.50,621.63 L252.50,620.62 L253.50,619.50 L254.50,618.27 L255.50,616.92 L256.50,615.46 L257.50,613.91 L258.50,612.30 L259.50,610.63 L260.50,608.94 L261.50,607.26 L262.50,605.64 L263.50,604.12 L264.50,602.74 L265.50,601.56 L266.50,600.62 L267.50,599.99 L268.50,599.75 L269.50,600.33 L270.50,601.45 L271.50,602.92 L272.50,604.63 L273.50,606.49 L274.50,608.41 L275.50,610.35 L276.50,612.24 L277.50,614.06 L278.50,615.76 L279.50,617.34 L280.50,618.77 L281.50,620.06 L282.50,621.20 L283.50,622.20 L284.50,623.07 L285.50,623.81 L286.50,624.45 L287.50,624.98 L288.50,625.42 L289.50,625.78 L290.50,626.08 L291.50,626.32 L292.50,626.51 L293.50,626.67 L294.50,626.79 L295.50,626.89 L296.50,626.96 L297.50,627.02 L298.50,627.06 L299.50,627.09 L300.50,627.11 L301.50,627.12 L302.50,627.12 L303.50,627.12 L304.50,627.10 L305.50,627.07 L306.50,627.02 L307.50,626.95 L308.50,626.85 L309.50,626.71 L310.50,626.52 L311.50,626.28 L312.50,625.95 L313.50,625.52 L314.50,624.97 L315.50,624.27 L316.50,623.40 L317.50,622.33 L318.50,621.05 L319.50,619.52 L320.50,617.74 L321.50,615.72 L322.50,613.47 L323.50,611.03 L324.50,608.49 L325.50,605.95 L326.50,603.54 L327.50,601.47 L328.50,600.02 L329.50,599.89 L330.50,600.88 L331.50,602.61 L332.50,604.84 L333.50,607.33 L334.50,609.82 L335.50,612.13 L336.50,614.12 L337.50,615.73 L338.50,616.98 L339.50,617.90 L340.50,618.57 L341.50,619.06 L342.50,619.42 L343.50,619.69 L344.50,619.89 L345.50,620.05 L346.50,620.18 L347.50,620.29 L348.50,620.39 L349.50,620.49 L350.50,620.58 L351.50,620.67 L352.50,620.77 L353.50,620.86 L354.50,620.95 L355.50,621.05 L356.50,621.15 L357.50,621.24 L358.50,621.34 L359.50,621.43 L360.50,621.53 L361.50,621.63 L362.50,621.72 L363.50,621.82 L364.50,621.92 L365.50,622.02 L366.50,622.11" fill="none" stroke="#2c3ae0" stroke-width="1.3" stroke-linejoin="round"/>
<path d="M215.50,627.20 L216.50,627.20 L217.50,627.20 L218.50,627.20 L219.50,627.20 L220.50,627.19 L221.50,627.19 L222.50,627.19 L223.50,627.18 L224.50,627.18 L225.50,627.17 L226.50,627.16 L227.50,627.14 L228.50,627.12 L229.50,627.09 L230.50,627.05 L231.50,627.00 L232.50,626.94 L233.50,626.85 L234.50,626.74 L235.50,626.60 L236.50,626.42 L237.50,626.19 L238.50,625.90 L239.50,625.54 L240.50,625.09 L241.50,624.54 L242.50,623.87 L243.50,623.06 L244.50,622.08 L245.50,620.91 L246.50,619.53 L247.50,617.91 L248.50,616.02 L249.50,613.85 L250.50,611.36 L251.50,608.54 L252.50,605.37 L253.50,601.85 L254.50,597.97 L255.50,593.75 L256.50,589.21 L257.50,584.37 L258.50,579.30 L259.50,574.04 L260.50,568.68 L261.50,563.30 L262.50,558.01 L263.50,552.93 L264.50,548.18 L265.50,543.90 L266.50,540.22 L267.50,537.32 L268.50,535.34 L269.50,534.55 L270.50,536.27 L271.50,539.79 L272.50,544.46 L273.50,549.92 L274.50,555.90 L275.50,562.14 L276.50,568.46 L277.50,574.69 L278.50,580.70 L279.50,586.39 L280.50,591.70 L281.50,596.58 L282.50,601.01 L283.50,604.97 L284.50,608.48 L285.50,611.56 L286.50,614.23 L287.50,616.52 L288.50,618.47 L289.50,620.11 L290.50,621.48 L291.50,622.62 L292.50,623.55 L293.50,624.32 L294.50,624.93 L295.50,625.42 L296.50,625.81 L297.50,626.12 L298.50,626.35 L299.50,626.52 L300.50,626.64 L301.50,626.71 L302.50,626.74 L303.50,626.72 L304.50,626.65 L305.50,626.52 L306.50,626.32 L307.50,626.03 L308.50,625.63 L309.50,625.08 L310.50,624.36 L311.50,623.41 L312.50,622.18 L313.50,620.60 L314.50,618.61 L315.50,616.13 L316.50,613.07 L317.50,609.36 L318.50,604.91 L319.50,599.66 L320.50,593.56 L321.50,586.60 L322.50,578.82 L323.50,570.30 L324.50,561.20 L325.50,551.78 L326.50,542.38 L327.50,533.48 L328.50,525.70 L329.50,519.92 L330.50,518.20 L331.50,521.20 L332.50,527.24 L333.50,535.52 L334.50,545.22 L335.50,555.53 L336.50,565.70 L337.50,575.17 L338.50,583.53 L339.50,590.63 L340.50,596.46 L341.50,601.11 L342.50,604.74 L343.50,607.52 L344.50,609.61 L345.50,611.15 L346.50,612.28 L347.50,613.09 L348.50,613.68 L349.50,614.12 L350.50,614.46 L351.50,614.73 L352.50,614.96 L353.50,615.17 L354.50,615.36 L355.50,615.54 L356.50,615.73 L357.50,615.91 L358.50,616.09 L359.50,616.27 L360.50,616.44 L361.50,616.62 L362.50,616.80 L363.50,616.98 L364.50,617.16 L365.50,617.34 L366.50,617.52" fill="none" stroke="#2c3ae0" stroke-width="1.3" stroke-linejoin="round"/>
<path d="M215.50,627.20 L216.50,627.19 L217.50,627.19 L218.50,627.19 L219.50,627.18 L220.50,627.18 L221.50,627.17 L222.50,627.16 L223.50,627.14 L224.50,627.12 L225.50,627.10 L226.50,627.06 L227.50,627.02 L228.50,626.96 L229.50,626.88 L230.50,626.78 L231.50,626.65 L232.50,626.48 L233.50,626.27 L234.50,626.01 L235.50,625.68 L236.50,625.27 L237.50,624.76 L238.50,624.13 L239.50,623.36 L240.50,622.43 L241.50,621.30 L242.50,619.95 L243.50,618.34 L244.50,616.44 L245.50,614.20 L246.50,611.60 L247.50,608.57 L248.50,605.10 L249.50,601.13 L250.50,596.63 L251.50,591.58 L252.50,585.95 L253.50,579.73 L254.50,572.92 L255.50,565.53 L256.50,557.58 L257.50,549.12 L258.50,540.21 L259.50,530.95 L260.50,521.42 L261.50,511.77 L262.50,502.14 L263.50,492.69 L264.50,483.61 L265.50,475.10 L266.50,467.37 L267.50,460.64 L268.50,455.15 L269.50,451.16 L270.50,448.98 L271.50,450.21 L272.50,455.50 L273.50,463.21 L274.50,472.60 L275.50,483.14 L276.50,494.40 L277.50,505.98 L278.50,517.60 L279.50,528.98 L280.50,539.93 L281.50,550.30 L282.50,559.98 L283.50,568.89 L284.50,577.00 L285.50,584.30 L286.50,590.79 L287.50,596.52 L288.50,601.52 L289.50,605.85 L290.50,609.56 L291.50,612.72 L292.50,615.38 L293.50,617.62 L294.50,619.47 L295.50,620.99 L296.50,622.23 L297.50,623.22 L298.50,624.01 L299.50,624.62 L300.50,625.08 L301.50,625.39 L302.50,625.58 L303.50,625.64 L304.50,625.58 L305.50,625.38 L306.50,625.03 L307.50,624.49 L308.50,623.74 L309.50,622.73 L310.50,621.40 L311.50,619.68 L312.50,617.50 L313.50,614.75 L314.50,611.34 L315.50,607.15 L316.50,602.06 L317.50,595.94 L318.50,588.67 L319.50,580.15 L320.50,570.29 L321.50,559.05 L322.50,546.42 L323.50,532.46 L324.50,517.33 L325.50,501.29 L326.50,484.69 L327.50,468.06 L328.50,452.07 L329.50,437.58 L330.50,425.76 L331.50,418.43 L332.50,419.89 L333.50,427.73 L334.50,440.31 L335.50,456.36 L336.50,474.52 L337.50,493.50 L338.50,512.16 L339.50,529.61 L340.50,545.25 L341.50,558.81 L342.50,570.23 L343.50,579.63 L344.50,587.19 L345.50,593.15 L346.50,597.73 L347.50,601.20 L348.50,603.76 L349.50,605.64 L350.50,607.00 L351.50,607.99 L352.50,608.72 L353.50,609.28 L354.50,609.72 L355.50,610.08 L356.50,610.40 L357.50,610.69 L358.50,610.97 L359.50,611.23 L360.50,611.49 L361.50,611.75 L362.50,612.01 L363.50,612.27 L364.50,612.52 L365.50,612.78 L366.50,613.04" fill="none" stroke="#2c3ae0" stroke-width="1.3" stroke-linejoin="round"/>
<text transform="translate(205.30,630.50) scale(0.955,1)" font-size="9.3" text-anchor="end" font-weight="bold" font-family="Liberation Sans" fill="#1c1c1c" stroke="#1c1c1c" stroke-width="0.15">0.0</text>
<text transform="translate(203.60,558.75) scale(0.955,1)" font-size="9.3" text-anchor="end" font-weight="bold" font-family="Liberation Sans" fill="#1c1c1c" stroke="#1c1c1c" stroke-width="0.15">23.0</text>
<text transform="translate(202.60,487.00) scale(0.955,1)" font-size="9.3" text-anchor="end" font-weight="bold" font-family="Liberation Sans" fill="#1c1c1c" stroke="#1c1c1c" stroke-width="0.15">46.0</text>
<text transform="translate(203.00,415.25) scale(0.955,1)" font-size="9.3" text-anchor="end" font-weight="bold" font-family="Liberation Sans" fill="#1c1c1c" stroke="#1c1c1c" stroke-width="0.15">69.0</text>
<text transform="translate(204.20,343.50) scale(0.955,1)" font-size="9.3" text-anchor="end" font-weight="bold" font-family="Liberation Sans" fill="#1c1c1c" stroke="#1c1c1c" stroke-width="0.15">92.0</text>
<text transform="translate(206.20,639.70) scale(0.955,1)" font-size="9.3" text-anchor="middle" font-weight="bold" font-family="Liberation Sans" fill="#1c1c1c" stroke="#1c1c1c" stroke-width="0.15">-1.0</text>
<text transform="translate(280.30,639.70) scale(0.955,1)" font-size="9.3" text-anchor="middle" font-weight="bold" font-family="Liberation Sans" fill="#1c1c1c" stroke="#1c1c1c" stroke-width="0.15">-0.75</text>
<text transform="translate(354.40,639.70) scale(0.955,1)" font-size="9.3" text-anchor="middle" font-weight="bold" font-family="Liberation Sans" fill="#1c1c1c" stroke="#1c1c1c" stroke-width="0.15">-0.5</text>
<text transform="translate(428.60,639.70) scale(0.955,1)" font-size="9.3" text-anchor="middle" font-weight="bold" font-family="Liberation Sans" fill="#1c1c1c" stroke="#1c1c1c" stroke-width="0.15">-0.25</text>
<text transform="translate(502.00,639.70) scale(0.955,1)" font-size="9.3" text-anchor="middle" font-weight="bold" font-family="Liberation Sans" fill="#1c1c1c" stroke="#1c1c1c" stroke-width="0.15">0.0</text>
<text transform="translate(356.25,651.90) scale(0.8962,1)" font-size="9.9" text-anchor="middle" font-weight="bold" font-family="Liberation Sans" fill="#1c1c1c" stroke="#1c1c1c" stroke-width="0.15">E / V <tspan font-style="italic">vs.</tspan> Ag/AgCl/KCl</text>
<text transform="translate(180.00,481.80) rotate(-90) scale(0.99,1)" x="0" y="0" font-size="9.6" text-anchor="middle" font-weight="bold" font-family="Liberation Sans" fill="#1c1c1c">I / µA</text>
<text x="220.50" y="365.30" font-size="17" text-anchor="start" font-weight="bold" font-family="Liberation Sans" fill="#1c1c1c" >C</text>
<text x="270.80" y="402.80" font-size="9.1" text-anchor="middle" font-weight="bold" font-family="Liberation Sans" fill="#1c1c1c" >Cd <tspan font-family="Liberation Serif">(<tspan font-size="88%">II</tspan>)</tspan></text>
<text x="333.10" y="370.00" font-size="9.1" text-anchor="middle" font-weight="bold" font-family="Liberation Sans" fill="#1c1c1c" >Pb <tspan font-family="Liberation Serif">(<tspan font-size="88%">II</tspan>)</tspan></text>
<line x1="302.80" y1="530.50" x2="302.80" y2="473.30" stroke="#666" stroke-width="1.4" />
<polygon points="300.80,474.50 304.80,474.50 302.80,470.30" fill="#111"/>
<text x="301.80" y="466.40" font-size="9.6" text-anchor="middle" font-weight="bold" font-family="Liberation Sans" fill="#1c1c1c" >10</text>
<text x="302.50" y="542.50" font-size="9.6" text-anchor="middle" font-weight="bold" font-family="Liberation Sans" fill="#1c1c1c" >1</text>
<line x1="395.00" y1="465.17" x2="475.24" y2="364.16" stroke="#6a6a6a" stroke-width="0.9" />
<line x1="395.00" y1="458.30" x2="395.00" y2="467.50" stroke="#8a8a8a" stroke-width="0.7" />
<line x1="393.60" y1="458.30" x2="396.40" y2="458.30" stroke="#8a8a8a" stroke-width="0.8" />
<line x1="393.60" y1="467.50" x2="396.40" y2="467.50" stroke="#8a8a8a" stroke-width="0.8" />
<line x1="399.72" y1="453.79" x2="399.72" y2="462.99" stroke="#8a8a8a" stroke-width="0.7" />
<line x1="398.32" y1="453.79" x2="401.12" y2="453.79" stroke="#8a8a8a" stroke-width="0.8" />
<line x1="398.32" y1="462.99" x2="401.12" y2="462.99" stroke="#8a8a8a" stroke-width="0.8" />
<line x1="404.44" y1="447.79" x2="404.44" y2="456.99" stroke="#8a8a8a" stroke-width="0.7" />
<line x1="403.04" y1="447.79" x2="405.84" y2="447.79" stroke="#8a8a8a" stroke-width="0.8" />
<line x1="403.04" y1="456.99" x2="405.84" y2="456.99" stroke="#8a8a8a" stroke-width="0.8" />
<line x1="409.16" y1="443.28" x2="409.16" y2="452.49" stroke="#8a8a8a" stroke-width="0.7" />
<line x1="407.76" y1="443.28" x2="410.56" y2="443.28" stroke="#8a8a8a" stroke-width="0.8" />
<line x1="407.76" y1="452.49" x2="410.56" y2="452.49" stroke="#8a8a8a" stroke-width="0.8" />
<line x1="423.32" y1="426.77" x2="423.32" y2="435.97" stroke="#8a8a8a" stroke-width="0.7" />
<line x1="421.92" y1="426.77" x2="424.72" y2="426.77" stroke="#8a8a8a" stroke-width="0.8" />
<line x1="421.92" y1="435.97" x2="424.72" y2="435.97" stroke="#8a8a8a" stroke-width="0.8" />
<line x1="432.76" y1="416.26" x2="432.76" y2="425.46" stroke="#8a8a8a" stroke-width="0.7" />
<line x1="431.36" y1="416.26" x2="434.16" y2="416.26" stroke="#8a8a8a" stroke-width="0.8" />
<line x1="431.36" y1="425.46" x2="434.16" y2="425.46" stroke="#8a8a8a" stroke-width="0.8" />
<line x1="442.20" y1="401.25" x2="442.20" y2="410.45" stroke="#8a8a8a" stroke-width="0.7" />
<line x1="440.80" y1="401.25" x2="443.60" y2="401.25" stroke="#8a8a8a" stroke-width="0.8" />
<line x1="440.80" y1="410.45" x2="443.60" y2="410.45" stroke="#8a8a8a" stroke-width="0.8" />
<line x1="451.64" y1="390.74" x2="451.64" y2="399.94" stroke="#8a8a8a" stroke-width="0.7" />
<line x1="450.24" y1="390.74" x2="453.04" y2="390.74" stroke="#8a8a8a" stroke-width="0.8" />
<line x1="450.24" y1="399.94" x2="453.04" y2="399.94" stroke="#8a8a8a" stroke-width="0.8" />
<line x1="461.08" y1="375.73" x2="461.08" y2="384.93" stroke="#8a8a8a" stroke-width="0.7" />
<line x1="459.68" y1="375.73" x2="462.48" y2="375.73" stroke="#8a8a8a" stroke-width="0.8" />
<line x1="459.68" y1="384.93" x2="462.48" y2="384.93" stroke="#8a8a8a" stroke-width="0.8" />
<line x1="475.24" y1="357.71" x2="475.24" y2="366.91" stroke="#8a8a8a" stroke-width="0.7" />
<line x1="473.84" y1="357.71" x2="476.64" y2="357.71" stroke="#8a8a8a" stroke-width="0.8" />
<line x1="473.84" y1="366.91" x2="476.64" y2="366.91" stroke="#8a8a8a" stroke-width="0.8" />
<circle cx="395.00" cy="462.90" r="3.0" fill="url(#ball)"/>
<circle cx="399.72" cy="458.39" r="3.0" fill="url(#ball)"/>
<circle cx="404.44" cy="452.39" r="3.0" fill="url(#ball)"/>
<circle cx="409.16" cy="447.88" r="3.0" fill="url(#ball)"/>
<circle cx="423.32" cy="431.37" r="3.0" fill="url(#ball)"/>
<circle cx="432.76" cy="420.86" r="3.0" fill="url(#ball)"/>
<circle cx="442.20" cy="405.85" r="3.0" fill="url(#ball)"/>
<circle cx="451.64" cy="395.34" r="3.0" fill="url(#ball)"/>
<circle cx="461.08" cy="380.33" r="3.0" fill="url(#ball)"/>
<circle cx="475.24" cy="362.31" r="3.0" fill="url(#ball)"/>
<line x1="395.00" y1="345.80" x2="395.00" y2="465.90" stroke="#4a4a4a" stroke-width="1.4" />
<path d="M395.00,345.80 L489.40,345.80 L489.40,465.90" fill="none" stroke="#444" stroke-width="1.4"/>
<line x1="394.30" y1="465.90" x2="490.10" y2="465.90" stroke="#4a4a4a" stroke-width="1.5" />
<line x1="393.00" y1="465.90" x2="396.50" y2="465.90" stroke="#777" stroke-width="0.8" />
<text x="389.40" y="468.25" font-size="6.7" text-anchor="end" font-weight="bold" font-family="Liberation Sans" fill="#1c1c1c" stroke="#1c1c1c" stroke-width="0.22">0</text>
<line x1="393.00" y1="435.88" x2="396.50" y2="435.88" stroke="#777" stroke-width="0.8" />
<text x="389.40" y="438.23" font-size="6.7" text-anchor="end" font-weight="bold" font-family="Liberation Sans" fill="#1c1c1c" stroke="#1c1c1c" stroke-width="0.22">20</text>
<line x1="393.00" y1="405.85" x2="396.50" y2="405.85" stroke="#777" stroke-width="0.8" />
<text x="389.40" y="408.20" font-size="6.7" text-anchor="end" font-weight="bold" font-family="Liberation Sans" fill="#1c1c1c" stroke="#1c1c1c" stroke-width="0.22">40</text>
<line x1="393.00" y1="375.82" x2="396.50" y2="375.82" stroke="#777" stroke-width="0.8" />
<text x="389.40" y="378.18" font-size="6.7" text-anchor="end" font-weight="bold" font-family="Liberation Sans" fill="#1c1c1c" stroke="#1c1c1c" stroke-width="0.22">60</text>
<line x1="393.00" y1="345.80" x2="396.50" y2="345.80" stroke="#777" stroke-width="0.8" />
<text x="389.40" y="348.15" font-size="6.7" text-anchor="end" font-weight="bold" font-family="Liberation Sans" fill="#1c1c1c" stroke="#1c1c1c" stroke-width="0.22">80</text>
<line x1="395.00" y1="467.90" x2="395.00" y2="464.40" stroke="#777" stroke-width="0.8" />
<text x="395.00" y="476.80" font-size="6.7" text-anchor="middle" font-weight="bold" font-family="Liberation Sans" fill="#1c1c1c" stroke="#1c1c1c" stroke-width="0.22">0</text>
<line x1="418.60" y1="467.90" x2="418.60" y2="464.40" stroke="#777" stroke-width="0.8" />
<text x="418.60" y="476.80" font-size="6.7" text-anchor="middle" font-weight="bold" font-family="Liberation Sans" fill="#1c1c1c" stroke="#1c1c1c" stroke-width="0.22">25</text>
<line x1="442.20" y1="467.90" x2="442.20" y2="464.40" stroke="#777" stroke-width="0.8" />
<text x="442.20" y="476.80" font-size="6.7" text-anchor="middle" font-weight="bold" font-family="Liberation Sans" fill="#1c1c1c" stroke="#1c1c1c" stroke-width="0.22">50</text>
<line x1="465.80" y1="467.90" x2="465.80" y2="464.40" stroke="#777" stroke-width="0.8" />
<text x="465.80" y="476.80" font-size="6.7" text-anchor="middle" font-weight="bold" font-family="Liberation Sans" fill="#1c1c1c" stroke="#1c1c1c" stroke-width="0.22">75</text>
<line x1="489.40" y1="467.90" x2="489.40" y2="464.40" stroke="#777" stroke-width="0.8" />
<text x="489.40" y="476.80" font-size="6.7" text-anchor="middle" font-weight="bold" font-family="Liberation Sans" fill="#1c1c1c" stroke="#1c1c1c" stroke-width="0.22">100</text>
<text x="443.00" y="486.00" font-size="7.7" text-anchor="middle" font-weight="bold" font-family="Liberation Sans" fill="#1c1c1c" stroke="#1c1c1c" stroke-width="0.22"><tspan font-size="7.85">[C] / µg/L</tspan></text>
<text transform="translate(374.00,408.00) rotate(-90) scale(1.0,1)" x="0" y="0" font-size="8.5" text-anchor="middle" font-weight="bold" font-family="Liberation Sans" fill="#1c1c1c">I / µA</text>
<text x="434.35" y="356.40" font-size="7.0" text-anchor="middle" font-weight="bold" font-family="Liberation Sans" fill="#1c1c1c" stroke="#1c1c1c" stroke-width="0.22" textLength="69.3" lengthAdjust="spacingAndGlyphs">y = 0.7916x + 0.4874</text>
<text x="434.35" y="365.20" font-size="7.0" text-anchor="middle" font-weight="bold" font-family="Liberation Sans" fill="#1c1c1c" stroke="#1c1c1c" stroke-width="0.22">R² = 0.9974</text>
<text x="487.40" y="454.90" font-size="8.4" text-anchor="end" font-weight="bold" font-family="Liberation Sans" fill="#1c1c1c" >Cd <tspan font-family="Liberation Serif">(<tspan font-size="88%">II</tspan>)</tspan></text>
<line x1="399.90" y1="604.41" x2="477.25" y2="503.82" stroke="#6a6a6a" stroke-width="0.9" />
<line x1="399.90" y1="597.89" x2="399.90" y2="607.09" stroke="#8a8a8a" stroke-width="0.7" />
<line x1="398.50" y1="597.89" x2="401.30" y2="597.89" stroke="#8a8a8a" stroke-width="0.8" />
<line x1="398.50" y1="607.09" x2="401.30" y2="607.09" stroke="#8a8a8a" stroke-width="0.8" />
<line x1="404.45" y1="592.96" x2="404.45" y2="602.16" stroke="#8a8a8a" stroke-width="0.7" />
<line x1="403.05" y1="592.96" x2="405.85" y2="592.96" stroke="#8a8a8a" stroke-width="0.8" />
<line x1="403.05" y1="602.16" x2="405.85" y2="602.16" stroke="#8a8a8a" stroke-width="0.8" />
<line x1="409.00" y1="589.30" x2="409.00" y2="598.50" stroke="#8a8a8a" stroke-width="0.7" />
<line x1="407.60" y1="589.30" x2="410.40" y2="589.30" stroke="#8a8a8a" stroke-width="0.8" />
<line x1="407.60" y1="598.50" x2="410.40" y2="598.50" stroke="#8a8a8a" stroke-width="0.8" />
<line x1="413.55" y1="580.19" x2="413.55" y2="589.39" stroke="#8a8a8a" stroke-width="0.7" />
<line x1="412.15" y1="580.19" x2="414.95" y2="580.19" stroke="#8a8a8a" stroke-width="0.8" />
<line x1="412.15" y1="589.39" x2="414.95" y2="589.39" stroke="#8a8a8a" stroke-width="0.8" />
<line x1="427.20" y1="563.89" x2="427.20" y2="573.09" stroke="#8a8a8a" stroke-width="0.7" />
<line x1="425.80" y1="563.89" x2="428.60" y2="563.89" stroke="#8a8a8a" stroke-width="0.8" />
<line x1="425.80" y1="573.09" x2="428.60" y2="573.09" stroke="#8a8a8a" stroke-width="0.8" />
<line x1="436.30" y1="555.92" x2="436.30" y2="565.12" stroke="#8a8a8a" stroke-width="0.7" />
<line x1="434.90" y1="555.92" x2="437.70" y2="555.92" stroke="#8a8a8a" stroke-width="0.8" />
<line x1="434.90" y1="565.12" x2="437.70" y2="565.12" stroke="#8a8a8a" stroke-width="0.8" />
<line x1="445.40" y1="539.49" x2="445.40" y2="548.69" stroke="#8a8a8a" stroke-width="0.7" />
<line x1="444.00" y1="539.49" x2="446.80" y2="539.49" stroke="#8a8a8a" stroke-width="0.8" />
<line x1="444.00" y1="548.69" x2="446.80" y2="548.69" stroke="#8a8a8a" stroke-width="0.8" />
<line x1="454.50" y1="531.53" x2="454.50" y2="540.73" stroke="#8a8a8a" stroke-width="0.7" />
<line x1="453.10" y1="531.53" x2="455.90" y2="531.53" stroke="#8a8a8a" stroke-width="0.8" />
<line x1="453.10" y1="540.73" x2="455.90" y2="540.73" stroke="#8a8a8a" stroke-width="0.8" />
<line x1="463.60" y1="514.84" x2="463.60" y2="524.04" stroke="#8a8a8a" stroke-width="0.7" />
<line x1="462.20" y1="514.84" x2="465.00" y2="514.84" stroke="#8a8a8a" stroke-width="0.8" />
<line x1="462.20" y1="524.04" x2="465.00" y2="524.04" stroke="#8a8a8a" stroke-width="0.8" />
<line x1="477.25" y1="498.28" x2="477.25" y2="507.48" stroke="#8a8a8a" stroke-width="0.7" />
<line x1="475.85" y1="498.28" x2="478.65" y2="498.28" stroke="#8a8a8a" stroke-width="0.8" />
<line x1="475.85" y1="507.48" x2="478.65" y2="507.48" stroke="#8a8a8a" stroke-width="0.8" />
<circle cx="399.90" cy="602.49" r="3.0" fill="url(#ball)"/>
<circle cx="404.45" cy="597.56" r="3.0" fill="url(#ball)"/>
<circle cx="409.00" cy="593.90" r="3.0" fill="url(#ball)"/>
<circle cx="413.55" cy="584.79" r="3.0" fill="url(#ball)"/>
<circle cx="427.20" cy="568.49" r="3.0" fill="url(#ball)"/>
<circle cx="436.30" cy="560.52" r="3.0" fill="url(#ball)"/>
<circle cx="445.40" cy="544.09" r="3.0" fill="url(#ball)"/>
<circle cx="454.50" cy="536.13" r="3.0" fill="url(#ball)"/>
<circle cx="463.60" cy="519.44" r="3.0" fill="url(#ball)"/>
<circle cx="477.25" cy="502.88" r="3.0" fill="url(#ball)"/>
<line x1="399.90" y1="489.10" x2="399.90" y2="605.40" stroke="#4a4a4a" stroke-width="1.4" />
<path d="M399.90,489.10 L490.90,489.10 L490.90,605.40" fill="none" stroke="#444" stroke-width="1.4"/>
<line x1="399.20" y1="605.40" x2="491.60" y2="605.40" stroke="#4a4a4a" stroke-width="1.5" />
<line x1="397.90" y1="605.40" x2="401.40" y2="605.40" stroke="#777" stroke-width="0.8" />
<text x="394.00" y="607.75" font-size="6.7" text-anchor="end" font-weight="bold" font-family="Liberation Sans" fill="#1c1c1c" stroke="#1c1c1c" stroke-width="0.22">0</text>
<line x1="397.90" y1="576.33" x2="401.40" y2="576.33" stroke="#777" stroke-width="0.8" />
<text x="394.00" y="578.68" font-size="6.7" text-anchor="end" font-weight="bold" font-family="Liberation Sans" fill="#1c1c1c" stroke="#1c1c1c" stroke-width="0.22">23</text>
<line x1="397.90" y1="547.25" x2="401.40" y2="547.25" stroke="#777" stroke-width="0.8" />
<text x="394.00" y="549.60" font-size="6.7" text-anchor="end" font-weight="bold" font-family="Liberation Sans" fill="#1c1c1c" stroke="#1c1c1c" stroke-width="0.22">46</text>
<line x1="397.90" y1="518.17" x2="401.40" y2="518.17" stroke="#777" stroke-width="0.8" />
<text x="394.00" y="520.52" font-size="6.7" text-anchor="end" font-weight="bold" font-family="Liberation Sans" fill="#1c1c1c" stroke="#1c1c1c" stroke-width="0.22">69</text>
<line x1="397.90" y1="489.10" x2="401.40" y2="489.10" stroke="#777" stroke-width="0.8" />
<text x="394.00" y="491.45" font-size="6.7" text-anchor="end" font-weight="bold" font-family="Liberation Sans" fill="#1c1c1c" stroke="#1c1c1c" stroke-width="0.22">92</text>
<line x1="399.90" y1="607.40" x2="399.90" y2="603.90" stroke="#777" stroke-width="0.8" />
<text x="399.90" y="617.00" font-size="6.7" text-anchor="middle" font-weight="bold" font-family="Liberation Sans" fill="#1c1c1c" stroke="#1c1c1c" stroke-width="0.22">0</text>
<line x1="422.65" y1="607.40" x2="422.65" y2="603.90" stroke="#777" stroke-width="0.8" />
<text x="422.65" y="617.00" font-size="6.7" text-anchor="middle" font-weight="bold" font-family="Liberation Sans" fill="#1c1c1c" stroke="#1c1c1c" stroke-width="0.22">25</text>
<line x1="445.40" y1="607.40" x2="445.40" y2="603.90" stroke="#777" stroke-width="0.8" />
<text x="445.40" y="617.00" font-size="6.7" text-anchor="middle" font-weight="bold" font-family="Liberation Sans" fill="#1c1c1c" stroke="#1c1c1c" stroke-width="0.22">50</text>
<line x1="468.15" y1="607.40" x2="468.15" y2="603.90" stroke="#777" stroke-width="0.8" />
<text x="468.15" y="617.00" font-size="6.7" text-anchor="middle" font-weight="bold" font-family="Liberation Sans" fill="#1c1c1c" stroke="#1c1c1c" stroke-width="0.22">75</text>
<line x1="490.90" y1="607.40" x2="490.90" y2="603.90" stroke="#777" stroke-width="0.8" />
<text x="490.90" y="617.00" font-size="6.7" text-anchor="middle" font-weight="bold" font-family="Liberation Sans" fill="#1c1c1c" stroke="#1c1c1c" stroke-width="0.22">100</text>
<text x="445.60" y="624.00" font-size="7.7" text-anchor="middle" font-weight="bold" font-family="Liberation Sans" fill="#1c1c1c" stroke="#1c1c1c" stroke-width="0.22">[C] / µg/L</text>
<text transform="translate(380.90,549.50) rotate(-90) scale(1.0,1)" x="0" y="0" font-size="8.5" text-anchor="middle" font-weight="bold" font-family="Liberation Sans" fill="#1c1c1c">I / µA</text>
<text x="443.85" y="497.80" font-size="7.0" text-anchor="middle" font-weight="bold" font-family="Liberation Sans" fill="#1c1c1c" stroke="#1c1c1c" stroke-width="0.22" textLength="69.0" lengthAdjust="spacingAndGlyphs">y = 0.9361x + 0.7839</text>
<text x="443.85" y="506.80" font-size="7.0" text-anchor="middle" font-weight="bold" font-family="Liberation Sans" fill="#1c1c1c" stroke="#1c1c1c" stroke-width="0.22">R² = 0.9977</text>
<text x="486.60" y="591.30" font-size="8.4" text-anchor="end" font-weight="bold" font-family="Liberation Sans" fill="#1c1c1c" >Pb <tspan font-family="Liberation Serif">(<tspan font-size="88%">II</tspan>)</tspan></text>
</svg>
</body></html>
